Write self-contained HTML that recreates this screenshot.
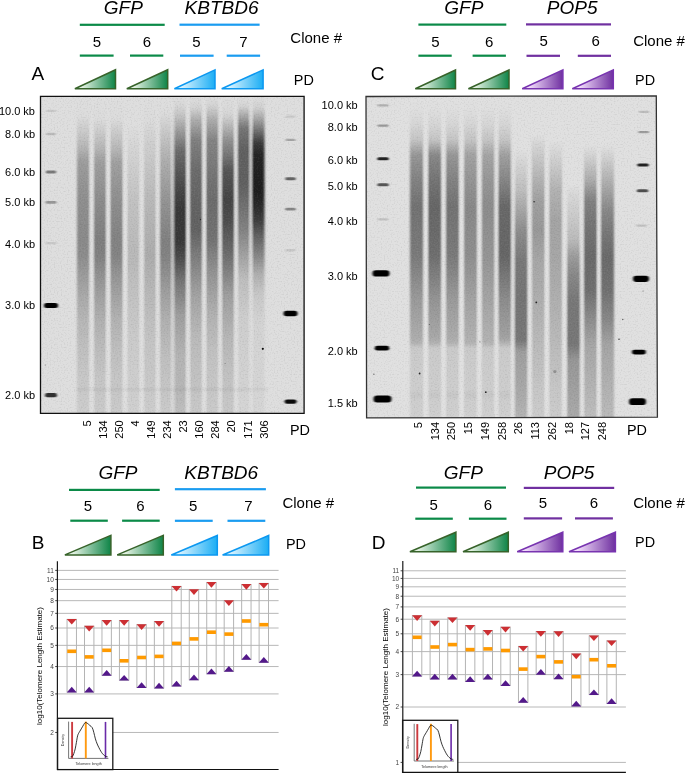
<!DOCTYPE html>
<html><head><meta charset="utf-8"><title>Figure</title>
<style>
html,body{margin:0;padding:0;background:#fff;width:685px;height:773px;overflow:hidden}
svg{display:block;position:absolute;left:0;top:0;will-change:transform}
text{font-family:"Liberation Sans", sans-serif}
</style></head><body>
<svg width="685" height="773" viewBox="0 0 685 773">
<defs>
<linearGradient id="tg1" gradientUnits="userSpaceOnUse" x1="73.9" y1="0" x2="116.2" y2="0"><stop offset="0" stop-color="#e2f1e2"/><stop offset="0.2" stop-color="#e2f1e2"/><stop offset="1" stop-color="#0a8244"/></linearGradient>
<linearGradient id="tg2" gradientUnits="userSpaceOnUse" x1="125.8" y1="0" x2="168.4" y2="0"><stop offset="0" stop-color="#e2f1e2"/><stop offset="0.2" stop-color="#e2f1e2"/><stop offset="1" stop-color="#0a8244"/></linearGradient>
<linearGradient id="tg3" gradientUnits="userSpaceOnUse" x1="173.4" y1="0" x2="215.7" y2="0"><stop offset="0" stop-color="#d8f3ff"/><stop offset="0.2" stop-color="#d8f3ff"/><stop offset="1" stop-color="#17acf4"/></linearGradient>
<linearGradient id="tg4" gradientUnits="userSpaceOnUse" x1="220.7" y1="0" x2="263.8" y2="0"><stop offset="0" stop-color="#d8f3ff"/><stop offset="0.2" stop-color="#d8f3ff"/><stop offset="1" stop-color="#17acf4"/></linearGradient>
<linearGradient id="tg5" gradientUnits="userSpaceOnUse" x1="414.3" y1="0" x2="456.2" y2="0"><stop offset="0" stop-color="#e2f1e2"/><stop offset="0.2" stop-color="#e2f1e2"/><stop offset="1" stop-color="#0a8244"/></linearGradient>
<linearGradient id="tg6" gradientUnits="userSpaceOnUse" x1="467.4" y1="0" x2="509.7" y2="0"><stop offset="0" stop-color="#e2f1e2"/><stop offset="0.2" stop-color="#e2f1e2"/><stop offset="1" stop-color="#0a8244"/></linearGradient>
<linearGradient id="tg7" gradientUnits="userSpaceOnUse" x1="521.2" y1="0" x2="563.6" y2="0"><stop offset="0" stop-color="#f2dcfb"/><stop offset="0.2" stop-color="#f2dcfb"/><stop offset="1" stop-color="#6c2c9e"/></linearGradient>
<linearGradient id="tg8" gradientUnits="userSpaceOnUse" x1="571.3" y1="0" x2="614.0" y2="0"><stop offset="0" stop-color="#f2dcfb"/><stop offset="0.2" stop-color="#f2dcfb"/><stop offset="1" stop-color="#6c2c9e"/></linearGradient>
<linearGradient id="tg9" gradientUnits="userSpaceOnUse" x1="63.9" y1="0" x2="111.6" y2="0"><stop offset="0" stop-color="#e2f1e2"/><stop offset="0.2" stop-color="#e2f1e2"/><stop offset="1" stop-color="#0a8244"/></linearGradient>
<linearGradient id="tg10" gradientUnits="userSpaceOnUse" x1="116.2" y1="0" x2="164.0" y2="0"><stop offset="0" stop-color="#e2f1e2"/><stop offset="0.2" stop-color="#e2f1e2"/><stop offset="1" stop-color="#0a8244"/></linearGradient>
<linearGradient id="tg11" gradientUnits="userSpaceOnUse" x1="170.3" y1="0" x2="218.0" y2="0"><stop offset="0" stop-color="#d8f3ff"/><stop offset="0.2" stop-color="#d8f3ff"/><stop offset="1" stop-color="#17acf4"/></linearGradient>
<linearGradient id="tg12" gradientUnits="userSpaceOnUse" x1="221.6" y1="0" x2="269.4" y2="0"><stop offset="0" stop-color="#d8f3ff"/><stop offset="0.2" stop-color="#d8f3ff"/><stop offset="1" stop-color="#17acf4"/></linearGradient>
<linearGradient id="tg13" gradientUnits="userSpaceOnUse" x1="408.9" y1="0" x2="456.6" y2="0"><stop offset="0" stop-color="#e2f1e2"/><stop offset="0.2" stop-color="#e2f1e2"/><stop offset="1" stop-color="#0a8244"/></linearGradient>
<linearGradient id="tg14" gradientUnits="userSpaceOnUse" x1="462.0" y1="0" x2="509.0" y2="0"><stop offset="0" stop-color="#e2f1e2"/><stop offset="0.2" stop-color="#e2f1e2"/><stop offset="1" stop-color="#0a8244"/></linearGradient>
<linearGradient id="tg15" gradientUnits="userSpaceOnUse" x1="516.2" y1="0" x2="563.5" y2="0"><stop offset="0" stop-color="#f2dcfb"/><stop offset="0.2" stop-color="#f2dcfb"/><stop offset="1" stop-color="#6c2c9e"/></linearGradient>
<linearGradient id="tg16" gradientUnits="userSpaceOnUse" x1="568.0" y1="0" x2="616.1" y2="0"><stop offset="0" stop-color="#f2dcfb"/><stop offset="0.2" stop-color="#f2dcfb"/><stop offset="1" stop-color="#6c2c9e"/></linearGradient>
<clipPath id="gc1"><polygon points="40.5,96.3 304.1,96.3 304.1,413.4 40.5,413.4"/></clipPath>
<filter id="gb1" x="-20%" y="-5%" width="140%" height="110%"><feGaussianBlur stdDeviation="1.1 1.0"/></filter>
<filter id="gl1" x="-50%" y="-50%" width="200%" height="200%"><feGaussianBlur stdDeviation="1.0 0.75"/></filter>
<filter id="gn1" x="0" y="0" width="100%" height="100%"><feTurbulence type="fractalNoise" baseFrequency="0.7" numOctaves="1" seed="7" result="n"/><feColorMatrix in="n" type="matrix" values="0 0 0 0 0  0 0 0 0 0  0 0 0 0 0  0 0 0 2 -1.0"/></filter>
<filter id="gw1" x="0" y="0" width="100%" height="100%"><feTurbulence type="fractalNoise" baseFrequency="0.7" numOctaves="1" seed="7" result="n"/><feColorMatrix in="n" type="matrix" values="0 0 0 0 1  0 0 0 0 1  0 0 0 0 1  0 0 0 -2 1.0"/></filter>
<linearGradient id="l1_0" gradientUnits="userSpaceOnUse" x1="0" y1="96.3" x2="0" y2="413.4"><stop offset="0.0000" stop-color="#000" stop-opacity="0.000"/><stop offset="0.0621" stop-color="#000" stop-opacity="0.009"/><stop offset="0.0810" stop-color="#000" stop-opacity="0.045"/><stop offset="0.1220" stop-color="#000" stop-opacity="0.108"/><stop offset="0.1630" stop-color="#000" stop-opacity="0.189"/><stop offset="0.2072" stop-color="#000" stop-opacity="0.297"/><stop offset="0.3270" stop-color="#000" stop-opacity="0.360"/><stop offset="0.4532" stop-color="#000" stop-opacity="0.378"/><stop offset="0.5036" stop-color="#000" stop-opacity="0.369"/><stop offset="0.5635" stop-color="#000" stop-opacity="0.302"/><stop offset="0.6266" stop-color="#000" stop-opacity="0.243"/><stop offset="0.7055" stop-color="#000" stop-opacity="0.180"/><stop offset="0.8001" stop-color="#000" stop-opacity="0.135"/><stop offset="0.8947" stop-color="#000" stop-opacity="0.099"/><stop offset="0.9987" stop-color="#000" stop-opacity="0.081"/></linearGradient>
<linearGradient id="l1_1" gradientUnits="userSpaceOnUse" x1="0" y1="96.3" x2="0" y2="413.4"><stop offset="0.0000" stop-color="#000" stop-opacity="0.000"/><stop offset="0.0684" stop-color="#000" stop-opacity="0.009"/><stop offset="0.1000" stop-color="#000" stop-opacity="0.063"/><stop offset="0.1630" stop-color="#000" stop-opacity="0.180"/><stop offset="0.2072" stop-color="#000" stop-opacity="0.288"/><stop offset="0.3270" stop-color="#000" stop-opacity="0.369"/><stop offset="0.4532" stop-color="#000" stop-opacity="0.432"/><stop offset="0.5036" stop-color="#000" stop-opacity="0.423"/><stop offset="0.5635" stop-color="#000" stop-opacity="0.347"/><stop offset="0.6266" stop-color="#000" stop-opacity="0.279"/><stop offset="0.7055" stop-color="#000" stop-opacity="0.207"/><stop offset="0.8001" stop-color="#000" stop-opacity="0.153"/><stop offset="0.8947" stop-color="#000" stop-opacity="0.108"/><stop offset="0.9987" stop-color="#000" stop-opacity="0.090"/></linearGradient>
<linearGradient id="l1_2" gradientUnits="userSpaceOnUse" x1="0" y1="96.3" x2="0" y2="413.4"><stop offset="0.0000" stop-color="#000" stop-opacity="0.000"/><stop offset="0.0684" stop-color="#000" stop-opacity="0.009"/><stop offset="0.1000" stop-color="#000" stop-opacity="0.063"/><stop offset="0.1630" stop-color="#000" stop-opacity="0.171"/><stop offset="0.2072" stop-color="#000" stop-opacity="0.279"/><stop offset="0.3270" stop-color="#000" stop-opacity="0.360"/><stop offset="0.4532" stop-color="#000" stop-opacity="0.414"/><stop offset="0.5036" stop-color="#000" stop-opacity="0.405"/><stop offset="0.5635" stop-color="#000" stop-opacity="0.333"/><stop offset="0.6266" stop-color="#000" stop-opacity="0.270"/><stop offset="0.7055" stop-color="#000" stop-opacity="0.198"/><stop offset="0.8001" stop-color="#000" stop-opacity="0.144"/><stop offset="0.8947" stop-color="#000" stop-opacity="0.108"/><stop offset="0.9987" stop-color="#000" stop-opacity="0.090"/></linearGradient>
<linearGradient id="l1_3" gradientUnits="userSpaceOnUse" x1="0" y1="96.3" x2="0" y2="413.4"><stop offset="0.0000" stop-color="#000" stop-opacity="0.000"/><stop offset="0.0905" stop-color="#000" stop-opacity="0.000"/><stop offset="0.1693" stop-color="#000" stop-opacity="0.045"/><stop offset="0.3270" stop-color="#000" stop-opacity="0.126"/><stop offset="0.5036" stop-color="#000" stop-opacity="0.171"/><stop offset="0.6266" stop-color="#000" stop-opacity="0.126"/><stop offset="0.7591" stop-color="#000" stop-opacity="0.090"/><stop offset="0.9987" stop-color="#000" stop-opacity="0.063"/></linearGradient>
<linearGradient id="l1_4" gradientUnits="userSpaceOnUse" x1="0" y1="96.3" x2="0" y2="413.4"><stop offset="0.0000" stop-color="#000" stop-opacity="0.000"/><stop offset="0.0684" stop-color="#000" stop-opacity="0.009"/><stop offset="0.1378" stop-color="#000" stop-opacity="0.063"/><stop offset="0.3270" stop-color="#000" stop-opacity="0.171"/><stop offset="0.5036" stop-color="#000" stop-opacity="0.225"/><stop offset="0.6266" stop-color="#000" stop-opacity="0.171"/><stop offset="0.7591" stop-color="#000" stop-opacity="0.122"/><stop offset="0.9987" stop-color="#000" stop-opacity="0.081"/></linearGradient>
<linearGradient id="l1_5" gradientUnits="userSpaceOnUse" x1="0" y1="96.3" x2="0" y2="413.4"><stop offset="0.0000" stop-color="#000" stop-opacity="0.000"/><stop offset="0.0495" stop-color="#000" stop-opacity="0.009"/><stop offset="0.1063" stop-color="#000" stop-opacity="0.090"/><stop offset="0.2009" stop-color="#000" stop-opacity="0.216"/><stop offset="0.3270" stop-color="#000" stop-opacity="0.333"/><stop offset="0.4532" stop-color="#000" stop-opacity="0.423"/><stop offset="0.5036" stop-color="#000" stop-opacity="0.414"/><stop offset="0.5635" stop-color="#000" stop-opacity="0.351"/><stop offset="0.6266" stop-color="#000" stop-opacity="0.279"/><stop offset="0.7055" stop-color="#000" stop-opacity="0.207"/><stop offset="0.8001" stop-color="#000" stop-opacity="0.153"/><stop offset="0.8947" stop-color="#000" stop-opacity="0.117"/><stop offset="0.9987" stop-color="#000" stop-opacity="0.090"/></linearGradient>
<linearGradient id="l1_6" gradientUnits="userSpaceOnUse" x1="0" y1="96.3" x2="0" y2="413.4"><stop offset="0.0000" stop-color="#000" stop-opacity="0.000"/><stop offset="0.0306" stop-color="#000" stop-opacity="0.036"/><stop offset="0.0653" stop-color="#000" stop-opacity="0.135"/><stop offset="0.1063" stop-color="#000" stop-opacity="0.288"/><stop offset="0.1693" stop-color="#000" stop-opacity="0.514"/><stop offset="0.2324" stop-color="#000" stop-opacity="0.604"/><stop offset="0.2955" stop-color="#000" stop-opacity="0.685"/><stop offset="0.3586" stop-color="#000" stop-opacity="0.748"/><stop offset="0.4532" stop-color="#000" stop-opacity="0.748"/><stop offset="0.5036" stop-color="#000" stop-opacity="0.676"/><stop offset="0.5793" stop-color="#000" stop-opacity="0.482"/><stop offset="0.6928" stop-color="#000" stop-opacity="0.288"/><stop offset="0.8221" stop-color="#000" stop-opacity="0.189"/><stop offset="0.9199" stop-color="#000" stop-opacity="0.180"/><stop offset="0.9987" stop-color="#000" stop-opacity="0.144"/></linearGradient>
<linearGradient id="l1_7" gradientUnits="userSpaceOnUse" x1="0" y1="96.3" x2="0" y2="413.4"><stop offset="0.0000" stop-color="#000" stop-opacity="0.000"/><stop offset="0.0369" stop-color="#000" stop-opacity="0.054"/><stop offset="0.0747" stop-color="#000" stop-opacity="0.225"/><stop offset="0.1378" stop-color="#000" stop-opacity="0.423"/><stop offset="0.2324" stop-color="#000" stop-opacity="0.514"/><stop offset="0.3270" stop-color="#000" stop-opacity="0.550"/><stop offset="0.4216" stop-color="#000" stop-opacity="0.559"/><stop offset="0.5036" stop-color="#000" stop-opacity="0.441"/><stop offset="0.6266" stop-color="#000" stop-opacity="0.270"/><stop offset="0.7591" stop-color="#000" stop-opacity="0.162"/><stop offset="0.9987" stop-color="#000" stop-opacity="0.099"/></linearGradient>
<linearGradient id="l1_8" gradientUnits="userSpaceOnUse" x1="0" y1="96.3" x2="0" y2="413.4"><stop offset="0.0000" stop-color="#000" stop-opacity="0.000"/><stop offset="0.0306" stop-color="#000" stop-opacity="0.054"/><stop offset="0.0747" stop-color="#000" stop-opacity="0.225"/><stop offset="0.1378" stop-color="#000" stop-opacity="0.405"/><stop offset="0.2640" stop-color="#000" stop-opacity="0.486"/><stop offset="0.3270" stop-color="#000" stop-opacity="0.514"/><stop offset="0.4532" stop-color="#000" stop-opacity="0.486"/><stop offset="0.5478" stop-color="#000" stop-opacity="0.351"/><stop offset="0.6928" stop-color="#000" stop-opacity="0.198"/><stop offset="0.8221" stop-color="#000" stop-opacity="0.126"/><stop offset="0.9987" stop-color="#000" stop-opacity="0.090"/></linearGradient>
<linearGradient id="l1_9" gradientUnits="userSpaceOnUse" x1="0" y1="96.3" x2="0" y2="413.4"><stop offset="0.0000" stop-color="#000" stop-opacity="0.000"/><stop offset="0.0558" stop-color="#000" stop-opacity="0.036"/><stop offset="0.0905" stop-color="#000" stop-opacity="0.162"/><stop offset="0.1378" stop-color="#000" stop-opacity="0.347"/><stop offset="0.1851" stop-color="#000" stop-opacity="0.468"/><stop offset="0.2324" stop-color="#000" stop-opacity="0.613"/><stop offset="0.3270" stop-color="#000" stop-opacity="0.694"/><stop offset="0.3901" stop-color="#000" stop-opacity="0.658"/><stop offset="0.5036" stop-color="#000" stop-opacity="0.505"/><stop offset="0.6266" stop-color="#000" stop-opacity="0.288"/><stop offset="0.7591" stop-color="#000" stop-opacity="0.180"/><stop offset="0.8884" stop-color="#000" stop-opacity="0.126"/><stop offset="0.9987" stop-color="#000" stop-opacity="0.099"/></linearGradient>
<linearGradient id="l1_10" gradientUnits="userSpaceOnUse" x1="0" y1="96.3" x2="0" y2="413.4"><stop offset="0.0000" stop-color="#000" stop-opacity="0.000"/><stop offset="0.0306" stop-color="#000" stop-opacity="0.045"/><stop offset="0.0558" stop-color="#000" stop-opacity="0.207"/><stop offset="0.1000" stop-color="#000" stop-opacity="0.468"/><stop offset="0.1693" stop-color="#000" stop-opacity="0.568"/><stop offset="0.2766" stop-color="#000" stop-opacity="0.568"/><stop offset="0.3270" stop-color="#000" stop-opacity="0.514"/><stop offset="0.4216" stop-color="#000" stop-opacity="0.414"/><stop offset="0.5036" stop-color="#000" stop-opacity="0.270"/><stop offset="0.5793" stop-color="#000" stop-opacity="0.144"/><stop offset="0.7055" stop-color="#000" stop-opacity="0.072"/><stop offset="0.9987" stop-color="#000" stop-opacity="0.045"/></linearGradient>
<linearGradient id="l1_11" gradientUnits="userSpaceOnUse" x1="0" y1="96.3" x2="0" y2="413.4"><stop offset="0.0000" stop-color="#000" stop-opacity="0.000"/><stop offset="0.0369" stop-color="#000" stop-opacity="0.063"/><stop offset="0.0747" stop-color="#000" stop-opacity="0.279"/><stop offset="0.1126" stop-color="#000" stop-opacity="0.514"/><stop offset="0.1473" stop-color="#000" stop-opacity="0.739"/><stop offset="0.1851" stop-color="#000" stop-opacity="0.838"/><stop offset="0.2955" stop-color="#000" stop-opacity="0.865"/><stop offset="0.3428" stop-color="#000" stop-opacity="0.820"/><stop offset="0.3901" stop-color="#000" stop-opacity="0.730"/><stop offset="0.4374" stop-color="#000" stop-opacity="0.572"/><stop offset="0.5036" stop-color="#000" stop-opacity="0.392"/><stop offset="0.5635" stop-color="#000" stop-opacity="0.207"/><stop offset="0.6266" stop-color="#000" stop-opacity="0.099"/><stop offset="0.7055" stop-color="#000" stop-opacity="0.054"/><stop offset="0.9987" stop-color="#000" stop-opacity="0.036"/></linearGradient>
<linearGradient id="gp1_0" gradientUnits="userSpaceOnUse" x1="0" y1="96.3" x2="0" y2="413.4"><stop offset="0.0000" stop-color="#fff" stop-opacity="0.000"/><stop offset="0.0000" stop-color="#fff" stop-opacity="0.000"/><stop offset="0.0621" stop-color="#fff" stop-opacity="0.006"/><stop offset="0.0684" stop-color="#fff" stop-opacity="0.011"/><stop offset="0.0810" stop-color="#fff" stop-opacity="0.026"/><stop offset="0.1000" stop-color="#fff" stop-opacity="0.048"/><stop offset="0.1220" stop-color="#fff" stop-opacity="0.074"/><stop offset="0.1630" stop-color="#fff" stop-opacity="0.129"/><stop offset="0.2072" stop-color="#fff" stop-opacity="0.200"/><stop offset="0.3270" stop-color="#fff" stop-opacity="0.200"/><stop offset="0.4532" stop-color="#fff" stop-opacity="0.200"/><stop offset="0.5036" stop-color="#fff" stop-opacity="0.200"/><stop offset="0.5635" stop-color="#fff" stop-opacity="0.200"/><stop offset="0.6266" stop-color="#fff" stop-opacity="0.183"/><stop offset="0.7055" stop-color="#fff" stop-opacity="0.136"/><stop offset="0.8001" stop-color="#fff" stop-opacity="0.101"/><stop offset="0.8947" stop-color="#fff" stop-opacity="0.073"/><stop offset="0.9987" stop-color="#fff" stop-opacity="0.060"/><stop offset="1.0000" stop-color="#fff" stop-opacity="0.060"/></linearGradient>
<linearGradient id="gp1_1" gradientUnits="userSpaceOnUse" x1="0" y1="96.3" x2="0" y2="413.4"><stop offset="0.0000" stop-color="#fff" stop-opacity="0.000"/><stop offset="0.0000" stop-color="#fff" stop-opacity="0.000"/><stop offset="0.0684" stop-color="#fff" stop-opacity="0.006"/><stop offset="0.1000" stop-color="#fff" stop-opacity="0.044"/><stop offset="0.1630" stop-color="#fff" stop-opacity="0.123"/><stop offset="0.2072" stop-color="#fff" stop-opacity="0.199"/><stop offset="0.3270" stop-color="#fff" stop-opacity="0.200"/><stop offset="0.4532" stop-color="#fff" stop-opacity="0.200"/><stop offset="0.5036" stop-color="#fff" stop-opacity="0.200"/><stop offset="0.5635" stop-color="#fff" stop-opacity="0.200"/><stop offset="0.6266" stop-color="#fff" stop-opacity="0.192"/><stop offset="0.7055" stop-color="#fff" stop-opacity="0.142"/><stop offset="0.8001" stop-color="#fff" stop-opacity="0.104"/><stop offset="0.8947" stop-color="#fff" stop-opacity="0.076"/><stop offset="0.9987" stop-color="#fff" stop-opacity="0.063"/><stop offset="1.0000" stop-color="#fff" stop-opacity="0.063"/></linearGradient>
<linearGradient id="gp1_2" gradientUnits="userSpaceOnUse" x1="0" y1="96.3" x2="0" y2="413.4"><stop offset="0.0000" stop-color="#fff" stop-opacity="0.000"/><stop offset="0.0000" stop-color="#fff" stop-opacity="0.000"/><stop offset="0.0684" stop-color="#fff" stop-opacity="0.003"/><stop offset="0.0905" stop-color="#fff" stop-opacity="0.016"/><stop offset="0.1000" stop-color="#fff" stop-opacity="0.024"/><stop offset="0.1630" stop-color="#fff" stop-opacity="0.074"/><stop offset="0.1693" stop-color="#fff" stop-opacity="0.081"/><stop offset="0.2072" stop-color="#fff" stop-opacity="0.120"/><stop offset="0.3270" stop-color="#fff" stop-opacity="0.170"/><stop offset="0.4532" stop-color="#fff" stop-opacity="0.200"/><stop offset="0.5036" stop-color="#fff" stop-opacity="0.200"/><stop offset="0.5635" stop-color="#fff" stop-opacity="0.169"/><stop offset="0.6266" stop-color="#fff" stop-opacity="0.139"/><stop offset="0.7055" stop-color="#fff" stop-opacity="0.106"/><stop offset="0.7591" stop-color="#fff" stop-opacity="0.090"/><stop offset="0.8001" stop-color="#fff" stop-opacity="0.080"/><stop offset="0.8947" stop-color="#fff" stop-opacity="0.064"/><stop offset="0.9987" stop-color="#fff" stop-opacity="0.054"/><stop offset="1.0000" stop-color="#fff" stop-opacity="0.054"/></linearGradient>
<linearGradient id="gp1_3" gradientUnits="userSpaceOnUse" x1="0" y1="96.3" x2="0" y2="413.4"><stop offset="0.0000" stop-color="#fff" stop-opacity="0.000"/><stop offset="0.0000" stop-color="#fff" stop-opacity="0.000"/><stop offset="0.0684" stop-color="#fff" stop-opacity="0.003"/><stop offset="0.0905" stop-color="#fff" stop-opacity="0.009"/><stop offset="0.1378" stop-color="#fff" stop-opacity="0.032"/><stop offset="0.1693" stop-color="#fff" stop-opacity="0.044"/><stop offset="0.3270" stop-color="#fff" stop-opacity="0.104"/><stop offset="0.5036" stop-color="#fff" stop-opacity="0.139"/><stop offset="0.6266" stop-color="#fff" stop-opacity="0.104"/><stop offset="0.7591" stop-color="#fff" stop-opacity="0.074"/><stop offset="0.9987" stop-color="#fff" stop-opacity="0.050"/><stop offset="1.0000" stop-color="#fff" stop-opacity="0.050"/></linearGradient>
<linearGradient id="gp1_4" gradientUnits="userSpaceOnUse" x1="0" y1="96.3" x2="0" y2="413.4"><stop offset="0.0000" stop-color="#fff" stop-opacity="0.000"/><stop offset="0.0000" stop-color="#fff" stop-opacity="0.000"/><stop offset="0.0495" stop-color="#fff" stop-opacity="0.005"/><stop offset="0.0684" stop-color="#fff" stop-opacity="0.016"/><stop offset="0.1063" stop-color="#fff" stop-opacity="0.045"/><stop offset="0.1378" stop-color="#fff" stop-opacity="0.068"/><stop offset="0.2009" stop-color="#fff" stop-opacity="0.110"/><stop offset="0.3270" stop-color="#fff" stop-opacity="0.177"/><stop offset="0.4532" stop-color="#fff" stop-opacity="0.200"/><stop offset="0.5036" stop-color="#fff" stop-opacity="0.200"/><stop offset="0.5635" stop-color="#fff" stop-opacity="0.193"/><stop offset="0.6266" stop-color="#fff" stop-opacity="0.158"/><stop offset="0.7055" stop-color="#fff" stop-opacity="0.122"/><stop offset="0.7591" stop-color="#fff" stop-opacity="0.104"/><stop offset="0.8001" stop-color="#fff" stop-opacity="0.094"/><stop offset="0.8947" stop-color="#fff" stop-opacity="0.076"/><stop offset="0.9987" stop-color="#fff" stop-opacity="0.060"/><stop offset="1.0000" stop-color="#fff" stop-opacity="0.060"/></linearGradient>
<linearGradient id="gp1_5" gradientUnits="userSpaceOnUse" x1="0" y1="96.3" x2="0" y2="413.4"><stop offset="0.0000" stop-color="#fff" stop-opacity="0.000"/><stop offset="0.0000" stop-color="#fff" stop-opacity="0.000"/><stop offset="0.0306" stop-color="#fff" stop-opacity="0.015"/><stop offset="0.0495" stop-color="#fff" stop-opacity="0.035"/><stop offset="0.0653" stop-color="#fff" stop-opacity="0.058"/><stop offset="0.1063" stop-color="#fff" stop-opacity="0.132"/><stop offset="0.1693" stop-color="#fff" stop-opacity="0.200"/><stop offset="0.2009" stop-color="#fff" stop-opacity="0.200"/><stop offset="0.2324" stop-color="#fff" stop-opacity="0.200"/><stop offset="0.2955" stop-color="#fff" stop-opacity="0.200"/><stop offset="0.3270" stop-color="#fff" stop-opacity="0.200"/><stop offset="0.3586" stop-color="#fff" stop-opacity="0.200"/><stop offset="0.4532" stop-color="#fff" stop-opacity="0.200"/><stop offset="0.5036" stop-color="#fff" stop-opacity="0.200"/><stop offset="0.5635" stop-color="#fff" stop-opacity="0.200"/><stop offset="0.5793" stop-color="#fff" stop-opacity="0.200"/><stop offset="0.6266" stop-color="#fff" stop-opacity="0.200"/><stop offset="0.6928" stop-color="#fff" stop-opacity="0.177"/><stop offset="0.7055" stop-color="#fff" stop-opacity="0.170"/><stop offset="0.8001" stop-color="#fff" stop-opacity="0.126"/><stop offset="0.8221" stop-color="#fff" stop-opacity="0.117"/><stop offset="0.8947" stop-color="#fff" stop-opacity="0.105"/><stop offset="0.9199" stop-color="#fff" stop-opacity="0.102"/><stop offset="0.9987" stop-color="#fff" stop-opacity="0.082"/><stop offset="1.0000" stop-color="#fff" stop-opacity="0.082"/></linearGradient>
<linearGradient id="gp1_6" gradientUnits="userSpaceOnUse" x1="0" y1="96.3" x2="0" y2="413.4"><stop offset="0.0000" stop-color="#fff" stop-opacity="0.000"/><stop offset="0.0000" stop-color="#fff" stop-opacity="0.001"/><stop offset="0.0306" stop-color="#fff" stop-opacity="0.028"/><stop offset="0.0369" stop-color="#fff" stop-opacity="0.038"/><stop offset="0.0653" stop-color="#fff" stop-opacity="0.111"/><stop offset="0.0747" stop-color="#fff" stop-opacity="0.138"/><stop offset="0.1063" stop-color="#fff" stop-opacity="0.200"/><stop offset="0.1378" stop-color="#fff" stop-opacity="0.200"/><stop offset="0.1693" stop-color="#fff" stop-opacity="0.200"/><stop offset="0.2324" stop-color="#fff" stop-opacity="0.200"/><stop offset="0.2955" stop-color="#fff" stop-opacity="0.200"/><stop offset="0.3270" stop-color="#fff" stop-opacity="0.200"/><stop offset="0.3586" stop-color="#fff" stop-opacity="0.200"/><stop offset="0.4216" stop-color="#fff" stop-opacity="0.200"/><stop offset="0.4532" stop-color="#fff" stop-opacity="0.200"/><stop offset="0.5036" stop-color="#fff" stop-opacity="0.200"/><stop offset="0.5793" stop-color="#fff" stop-opacity="0.200"/><stop offset="0.6266" stop-color="#fff" stop-opacity="0.200"/><stop offset="0.6928" stop-color="#fff" stop-opacity="0.177"/><stop offset="0.7591" stop-color="#fff" stop-opacity="0.140"/><stop offset="0.8221" stop-color="#fff" stop-opacity="0.117"/><stop offset="0.9199" stop-color="#fff" stop-opacity="0.105"/><stop offset="0.9987" stop-color="#fff" stop-opacity="0.085"/><stop offset="1.0000" stop-color="#fff" stop-opacity="0.085"/></linearGradient>
<linearGradient id="gp1_7" gradientUnits="userSpaceOnUse" x1="0" y1="96.3" x2="0" y2="413.4"><stop offset="0.0000" stop-color="#fff" stop-opacity="0.000"/><stop offset="0.0000" stop-color="#fff" stop-opacity="0.001"/><stop offset="0.0306" stop-color="#fff" stop-opacity="0.035"/><stop offset="0.0369" stop-color="#fff" stop-opacity="0.046"/><stop offset="0.0747" stop-color="#fff" stop-opacity="0.158"/><stop offset="0.1378" stop-color="#fff" stop-opacity="0.200"/><stop offset="0.2324" stop-color="#fff" stop-opacity="0.200"/><stop offset="0.2640" stop-color="#fff" stop-opacity="0.200"/><stop offset="0.3270" stop-color="#fff" stop-opacity="0.200"/><stop offset="0.4216" stop-color="#fff" stop-opacity="0.200"/><stop offset="0.4532" stop-color="#fff" stop-opacity="0.200"/><stop offset="0.5036" stop-color="#fff" stop-opacity="0.200"/><stop offset="0.5478" stop-color="#fff" stop-opacity="0.200"/><stop offset="0.6266" stop-color="#fff" stop-opacity="0.188"/><stop offset="0.6928" stop-color="#fff" stop-opacity="0.145"/><stop offset="0.7591" stop-color="#fff" stop-opacity="0.113"/><stop offset="0.8221" stop-color="#fff" stop-opacity="0.095"/><stop offset="0.9987" stop-color="#fff" stop-opacity="0.066"/><stop offset="1.0000" stop-color="#fff" stop-opacity="0.066"/></linearGradient>
<linearGradient id="gp1_8" gradientUnits="userSpaceOnUse" x1="0" y1="96.3" x2="0" y2="413.4"><stop offset="0.0000" stop-color="#fff" stop-opacity="0.000"/><stop offset="0.0000" stop-color="#fff" stop-opacity="0.001"/><stop offset="0.0306" stop-color="#fff" stop-opacity="0.026"/><stop offset="0.0558" stop-color="#fff" stop-opacity="0.066"/><stop offset="0.0747" stop-color="#fff" stop-opacity="0.116"/><stop offset="0.0905" stop-color="#fff" stop-opacity="0.151"/><stop offset="0.1378" stop-color="#fff" stop-opacity="0.200"/><stop offset="0.1851" stop-color="#fff" stop-opacity="0.200"/><stop offset="0.2324" stop-color="#fff" stop-opacity="0.200"/><stop offset="0.2640" stop-color="#fff" stop-opacity="0.200"/><stop offset="0.3270" stop-color="#fff" stop-opacity="0.200"/><stop offset="0.3901" stop-color="#fff" stop-opacity="0.200"/><stop offset="0.4532" stop-color="#fff" stop-opacity="0.200"/><stop offset="0.5036" stop-color="#fff" stop-opacity="0.200"/><stop offset="0.5478" stop-color="#fff" stop-opacity="0.200"/><stop offset="0.6266" stop-color="#fff" stop-opacity="0.195"/><stop offset="0.6928" stop-color="#fff" stop-opacity="0.151"/><stop offset="0.7591" stop-color="#fff" stop-opacity="0.120"/><stop offset="0.8221" stop-color="#fff" stop-opacity="0.098"/><stop offset="0.8884" stop-color="#fff" stop-opacity="0.084"/><stop offset="0.9987" stop-color="#fff" stop-opacity="0.066"/><stop offset="1.0000" stop-color="#fff" stop-opacity="0.066"/></linearGradient>
<linearGradient id="gp1_9" gradientUnits="userSpaceOnUse" x1="0" y1="96.3" x2="0" y2="413.4"><stop offset="0.0000" stop-color="#fff" stop-opacity="0.000"/><stop offset="0.0000" stop-color="#fff" stop-opacity="0.001"/><stop offset="0.0306" stop-color="#fff" stop-opacity="0.023"/><stop offset="0.0558" stop-color="#fff" stop-opacity="0.085"/><stop offset="0.0905" stop-color="#fff" stop-opacity="0.200"/><stop offset="0.1000" stop-color="#fff" stop-opacity="0.200"/><stop offset="0.1378" stop-color="#fff" stop-opacity="0.200"/><stop offset="0.1693" stop-color="#fff" stop-opacity="0.200"/><stop offset="0.1851" stop-color="#fff" stop-opacity="0.200"/><stop offset="0.2324" stop-color="#fff" stop-opacity="0.200"/><stop offset="0.2766" stop-color="#fff" stop-opacity="0.200"/><stop offset="0.3270" stop-color="#fff" stop-opacity="0.200"/><stop offset="0.3901" stop-color="#fff" stop-opacity="0.200"/><stop offset="0.4216" stop-color="#fff" stop-opacity="0.200"/><stop offset="0.5036" stop-color="#fff" stop-opacity="0.200"/><stop offset="0.5793" stop-color="#fff" stop-opacity="0.180"/><stop offset="0.6266" stop-color="#fff" stop-opacity="0.142"/><stop offset="0.7055" stop-color="#fff" stop-opacity="0.104"/><stop offset="0.7591" stop-color="#fff" stop-opacity="0.087"/><stop offset="0.8884" stop-color="#fff" stop-opacity="0.063"/><stop offset="0.9987" stop-color="#fff" stop-opacity="0.050"/><stop offset="1.0000" stop-color="#fff" stop-opacity="0.050"/></linearGradient>
<linearGradient id="gp1_10" gradientUnits="userSpaceOnUse" x1="0" y1="96.3" x2="0" y2="413.4"><stop offset="0.0000" stop-color="#fff" stop-opacity="0.000"/><stop offset="0.0000" stop-color="#fff" stop-opacity="0.001"/><stop offset="0.0306" stop-color="#fff" stop-opacity="0.034"/><stop offset="0.0369" stop-color="#fff" stop-opacity="0.052"/><stop offset="0.0558" stop-color="#fff" stop-opacity="0.132"/><stop offset="0.0747" stop-color="#fff" stop-opacity="0.200"/><stop offset="0.1000" stop-color="#fff" stop-opacity="0.200"/><stop offset="0.1126" stop-color="#fff" stop-opacity="0.200"/><stop offset="0.1473" stop-color="#fff" stop-opacity="0.200"/><stop offset="0.1693" stop-color="#fff" stop-opacity="0.200"/><stop offset="0.1851" stop-color="#fff" stop-opacity="0.200"/><stop offset="0.2766" stop-color="#fff" stop-opacity="0.200"/><stop offset="0.2955" stop-color="#fff" stop-opacity="0.200"/><stop offset="0.3270" stop-color="#fff" stop-opacity="0.200"/><stop offset="0.3428" stop-color="#fff" stop-opacity="0.200"/><stop offset="0.3901" stop-color="#fff" stop-opacity="0.200"/><stop offset="0.4216" stop-color="#fff" stop-opacity="0.200"/><stop offset="0.4374" stop-color="#fff" stop-opacity="0.200"/><stop offset="0.5036" stop-color="#fff" stop-opacity="0.200"/><stop offset="0.5635" stop-color="#fff" stop-opacity="0.132"/><stop offset="0.5793" stop-color="#fff" stop-opacity="0.114"/><stop offset="0.6266" stop-color="#fff" stop-opacity="0.076"/><stop offset="0.7055" stop-color="#fff" stop-opacity="0.044"/><stop offset="0.9987" stop-color="#fff" stop-opacity="0.028"/><stop offset="1.0000" stop-color="#fff" stop-opacity="0.028"/></linearGradient>
<clipPath id="gc2"><polygon points="366.0,96.5 656.3,95.9 657.4,417.2 366.6,417.9"/></clipPath>
<filter id="gb2" x="-20%" y="-5%" width="140%" height="110%"><feGaussianBlur stdDeviation="1.1 1.0"/></filter>
<filter id="gl2" x="-50%" y="-50%" width="200%" height="200%"><feGaussianBlur stdDeviation="1.0 0.75"/></filter>
<filter id="gn2" x="0" y="0" width="100%" height="100%"><feTurbulence type="fractalNoise" baseFrequency="0.7" numOctaves="1" seed="14" result="n"/><feColorMatrix in="n" type="matrix" values="0 0 0 0 0  0 0 0 0 0  0 0 0 0 0  0 0 0 2 -1.0"/></filter>
<filter id="gw2" x="0" y="0" width="100%" height="100%"><feTurbulence type="fractalNoise" baseFrequency="0.7" numOctaves="1" seed="14" result="n"/><feColorMatrix in="n" type="matrix" values="0 0 0 0 1  0 0 0 0 1  0 0 0 0 1  0 0 0 -2 1.0"/></filter>
<linearGradient id="l2_0" gradientUnits="userSpaceOnUse" x1="0" y1="96.4" x2="0" y2="417.8"><stop offset="0.0000" stop-color="#000" stop-opacity="0.000"/><stop offset="0.0361" stop-color="#000" stop-opacity="0.004"/><stop offset="0.0859" stop-color="#000" stop-opacity="0.045"/><stop offset="0.1357" stop-color="#000" stop-opacity="0.125"/><stop offset="0.1823" stop-color="#000" stop-opacity="0.330"/><stop offset="0.2601" stop-color="#000" stop-opacity="0.420"/><stop offset="0.3410" stop-color="#000" stop-opacity="0.491"/><stop offset="0.4966" stop-color="#000" stop-opacity="0.455"/><stop offset="0.6335" stop-color="#000" stop-opacity="0.312"/><stop offset="0.7517" stop-color="#000" stop-opacity="0.232"/><stop offset="0.7673" stop-color="#000" stop-opacity="0.205"/><stop offset="0.7828" stop-color="#000" stop-opacity="0.098"/><stop offset="0.9135" stop-color="#000" stop-opacity="0.085"/><stop offset="0.9291" stop-color="#000" stop-opacity="0.116"/><stop offset="0.9446" stop-color="#000" stop-opacity="0.085"/><stop offset="1.0000" stop-color="#000" stop-opacity="0.071"/></linearGradient>
<linearGradient id="l2_1" gradientUnits="userSpaceOnUse" x1="0" y1="96.4" x2="0" y2="417.8"><stop offset="0.0000" stop-color="#000" stop-opacity="0.000"/><stop offset="0.0361" stop-color="#000" stop-opacity="0.004"/><stop offset="0.0859" stop-color="#000" stop-opacity="0.045"/><stop offset="0.1357" stop-color="#000" stop-opacity="0.125"/><stop offset="0.1823" stop-color="#000" stop-opacity="0.393"/><stop offset="0.2601" stop-color="#000" stop-opacity="0.482"/><stop offset="0.3410" stop-color="#000" stop-opacity="0.545"/><stop offset="0.4966" stop-color="#000" stop-opacity="0.509"/><stop offset="0.6335" stop-color="#000" stop-opacity="0.339"/><stop offset="0.7517" stop-color="#000" stop-opacity="0.250"/><stop offset="0.7673" stop-color="#000" stop-opacity="0.205"/><stop offset="0.7828" stop-color="#000" stop-opacity="0.098"/><stop offset="0.9135" stop-color="#000" stop-opacity="0.085"/><stop offset="0.9291" stop-color="#000" stop-opacity="0.116"/><stop offset="0.9446" stop-color="#000" stop-opacity="0.085"/><stop offset="1.0000" stop-color="#000" stop-opacity="0.071"/></linearGradient>
<linearGradient id="l2_2" gradientUnits="userSpaceOnUse" x1="0" y1="96.4" x2="0" y2="417.8"><stop offset="0.0000" stop-color="#000" stop-opacity="0.000"/><stop offset="0.0361" stop-color="#000" stop-opacity="0.004"/><stop offset="0.0859" stop-color="#000" stop-opacity="0.045"/><stop offset="0.1357" stop-color="#000" stop-opacity="0.125"/><stop offset="0.1823" stop-color="#000" stop-opacity="0.330"/><stop offset="0.2601" stop-color="#000" stop-opacity="0.420"/><stop offset="0.3410" stop-color="#000" stop-opacity="0.491"/><stop offset="0.4966" stop-color="#000" stop-opacity="0.455"/><stop offset="0.6335" stop-color="#000" stop-opacity="0.312"/><stop offset="0.7517" stop-color="#000" stop-opacity="0.232"/><stop offset="0.7673" stop-color="#000" stop-opacity="0.205"/><stop offset="0.7828" stop-color="#000" stop-opacity="0.098"/><stop offset="0.9135" stop-color="#000" stop-opacity="0.085"/><stop offset="0.9291" stop-color="#000" stop-opacity="0.116"/><stop offset="0.9446" stop-color="#000" stop-opacity="0.085"/><stop offset="1.0000" stop-color="#000" stop-opacity="0.071"/></linearGradient>
<linearGradient id="l2_3" gradientUnits="userSpaceOnUse" x1="0" y1="96.4" x2="0" y2="417.8"><stop offset="0.0000" stop-color="#000" stop-opacity="0.000"/><stop offset="0.0361" stop-color="#000" stop-opacity="0.004"/><stop offset="0.0859" stop-color="#000" stop-opacity="0.045"/><stop offset="0.1357" stop-color="#000" stop-opacity="0.125"/><stop offset="0.1823" stop-color="#000" stop-opacity="0.277"/><stop offset="0.2601" stop-color="#000" stop-opacity="0.339"/><stop offset="0.3410" stop-color="#000" stop-opacity="0.393"/><stop offset="0.4966" stop-color="#000" stop-opacity="0.366"/><stop offset="0.6335" stop-color="#000" stop-opacity="0.277"/><stop offset="0.7517" stop-color="#000" stop-opacity="0.214"/><stop offset="0.7673" stop-color="#000" stop-opacity="0.205"/><stop offset="0.7828" stop-color="#000" stop-opacity="0.098"/><stop offset="0.9135" stop-color="#000" stop-opacity="0.085"/><stop offset="0.9291" stop-color="#000" stop-opacity="0.116"/><stop offset="0.9446" stop-color="#000" stop-opacity="0.085"/><stop offset="1.0000" stop-color="#000" stop-opacity="0.071"/></linearGradient>
<linearGradient id="l2_4" gradientUnits="userSpaceOnUse" x1="0" y1="96.4" x2="0" y2="417.8"><stop offset="0.0000" stop-color="#000" stop-opacity="0.000"/><stop offset="0.0361" stop-color="#000" stop-opacity="0.004"/><stop offset="0.0859" stop-color="#000" stop-opacity="0.045"/><stop offset="0.1357" stop-color="#000" stop-opacity="0.125"/><stop offset="0.1823" stop-color="#000" stop-opacity="0.268"/><stop offset="0.2601" stop-color="#000" stop-opacity="0.330"/><stop offset="0.3410" stop-color="#000" stop-opacity="0.375"/><stop offset="0.4966" stop-color="#000" stop-opacity="0.339"/><stop offset="0.6335" stop-color="#000" stop-opacity="0.268"/><stop offset="0.7517" stop-color="#000" stop-opacity="0.210"/><stop offset="0.7673" stop-color="#000" stop-opacity="0.205"/><stop offset="0.7828" stop-color="#000" stop-opacity="0.098"/><stop offset="0.9135" stop-color="#000" stop-opacity="0.085"/><stop offset="0.9291" stop-color="#000" stop-opacity="0.116"/><stop offset="0.9446" stop-color="#000" stop-opacity="0.085"/><stop offset="1.0000" stop-color="#000" stop-opacity="0.071"/></linearGradient>
<linearGradient id="l2_5" gradientUnits="userSpaceOnUse" x1="0" y1="96.4" x2="0" y2="417.8"><stop offset="0.0000" stop-color="#000" stop-opacity="0.000"/><stop offset="0.0361" stop-color="#000" stop-opacity="0.004"/><stop offset="0.0859" stop-color="#000" stop-opacity="0.045"/><stop offset="0.1357" stop-color="#000" stop-opacity="0.125"/><stop offset="0.1823" stop-color="#000" stop-opacity="0.286"/><stop offset="0.2601" stop-color="#000" stop-opacity="0.402"/><stop offset="0.3410" stop-color="#000" stop-opacity="0.536"/><stop offset="0.4966" stop-color="#000" stop-opacity="0.545"/><stop offset="0.6335" stop-color="#000" stop-opacity="0.375"/><stop offset="0.7517" stop-color="#000" stop-opacity="0.277"/><stop offset="0.7673" stop-color="#000" stop-opacity="0.205"/><stop offset="0.7828" stop-color="#000" stop-opacity="0.098"/><stop offset="0.9135" stop-color="#000" stop-opacity="0.085"/><stop offset="0.9291" stop-color="#000" stop-opacity="0.116"/><stop offset="0.9446" stop-color="#000" stop-opacity="0.085"/><stop offset="1.0000" stop-color="#000" stop-opacity="0.071"/></linearGradient>
<linearGradient id="l2_6" gradientUnits="userSpaceOnUse" x1="0" y1="96.4" x2="0" y2="417.8"><stop offset="0.0000" stop-color="#000" stop-opacity="0.000"/><stop offset="0.1668" stop-color="#000" stop-opacity="0.000"/><stop offset="0.2010" stop-color="#000" stop-opacity="0.045"/><stop offset="0.2912" stop-color="#000" stop-opacity="0.152"/><stop offset="0.4188" stop-color="#000" stop-opacity="0.375"/><stop offset="0.5090" stop-color="#000" stop-opacity="0.464"/><stop offset="0.6335" stop-color="#000" stop-opacity="0.482"/><stop offset="0.7579" stop-color="#000" stop-opacity="0.473"/><stop offset="0.7953" stop-color="#000" stop-opacity="0.295"/><stop offset="0.9135" stop-color="#000" stop-opacity="0.250"/><stop offset="1.0000" stop-color="#000" stop-opacity="0.196"/></linearGradient>
<linearGradient id="l2_7" gradientUnits="userSpaceOnUse" x1="0" y1="96.4" x2="0" y2="417.8"><stop offset="0.0000" stop-color="#000" stop-opacity="0.000"/><stop offset="0.1201" stop-color="#000" stop-opacity="0.000"/><stop offset="0.1512" stop-color="#000" stop-opacity="0.054"/><stop offset="0.2601" stop-color="#000" stop-opacity="0.205"/><stop offset="0.3223" stop-color="#000" stop-opacity="0.286"/><stop offset="0.4157" stop-color="#000" stop-opacity="0.321"/><stop offset="0.5090" stop-color="#000" stop-opacity="0.259"/><stop offset="0.6335" stop-color="#000" stop-opacity="0.223"/><stop offset="0.7673" stop-color="#000" stop-opacity="0.170"/><stop offset="0.9135" stop-color="#000" stop-opacity="0.116"/><stop offset="1.0000" stop-color="#000" stop-opacity="0.089"/></linearGradient>
<linearGradient id="l2_8" gradientUnits="userSpaceOnUse" x1="0" y1="96.4" x2="0" y2="417.8"><stop offset="0.0000" stop-color="#000" stop-opacity="0.000"/><stop offset="0.1357" stop-color="#000" stop-opacity="0.000"/><stop offset="0.1823" stop-color="#000" stop-opacity="0.054"/><stop offset="0.2912" stop-color="#000" stop-opacity="0.205"/><stop offset="0.3846" stop-color="#000" stop-opacity="0.268"/><stop offset="0.4966" stop-color="#000" stop-opacity="0.259"/><stop offset="0.6335" stop-color="#000" stop-opacity="0.219"/><stop offset="0.7673" stop-color="#000" stop-opacity="0.170"/><stop offset="0.9135" stop-color="#000" stop-opacity="0.116"/><stop offset="1.0000" stop-color="#000" stop-opacity="0.089"/></linearGradient>
<linearGradient id="l2_9" gradientUnits="userSpaceOnUse" x1="0" y1="96.4" x2="0" y2="417.8"><stop offset="0.0000" stop-color="#000" stop-opacity="0.000"/><stop offset="0.2757" stop-color="#000" stop-opacity="0.000"/><stop offset="0.3099" stop-color="#000" stop-opacity="0.045"/><stop offset="0.3846" stop-color="#000" stop-opacity="0.107"/><stop offset="0.4468" stop-color="#000" stop-opacity="0.170"/><stop offset="0.4966" stop-color="#000" stop-opacity="0.304"/><stop offset="0.5557" stop-color="#000" stop-opacity="0.393"/><stop offset="0.6335" stop-color="#000" stop-opacity="0.464"/><stop offset="0.7704" stop-color="#000" stop-opacity="0.473"/><stop offset="0.8202" stop-color="#000" stop-opacity="0.330"/><stop offset="0.9135" stop-color="#000" stop-opacity="0.286"/><stop offset="1.0000" stop-color="#000" stop-opacity="0.241"/></linearGradient>
<linearGradient id="l2_10" gradientUnits="userSpaceOnUse" x1="0" y1="96.4" x2="0" y2="417.8"><stop offset="0.0000" stop-color="#000" stop-opacity="0.000"/><stop offset="0.1512" stop-color="#000" stop-opacity="0.000"/><stop offset="0.1823" stop-color="#000" stop-opacity="0.054"/><stop offset="0.2601" stop-color="#000" stop-opacity="0.232"/><stop offset="0.3223" stop-color="#000" stop-opacity="0.420"/><stop offset="0.3846" stop-color="#000" stop-opacity="0.473"/><stop offset="0.4966" stop-color="#000" stop-opacity="0.527"/><stop offset="0.6024" stop-color="#000" stop-opacity="0.509"/><stop offset="0.6801" stop-color="#000" stop-opacity="0.393"/><stop offset="0.7735" stop-color="#000" stop-opacity="0.259"/><stop offset="0.9135" stop-color="#000" stop-opacity="0.196"/><stop offset="1.0000" stop-color="#000" stop-opacity="0.152"/></linearGradient>
<linearGradient id="l2_11" gradientUnits="userSpaceOnUse" x1="0" y1="96.4" x2="0" y2="417.8"><stop offset="0.0000" stop-color="#000" stop-opacity="0.000"/><stop offset="0.1512" stop-color="#000" stop-opacity="0.000"/><stop offset="0.1823" stop-color="#000" stop-opacity="0.054"/><stop offset="0.2757" stop-color="#000" stop-opacity="0.241"/><stop offset="0.3535" stop-color="#000" stop-opacity="0.393"/><stop offset="0.4312" stop-color="#000" stop-opacity="0.473"/><stop offset="0.4966" stop-color="#000" stop-opacity="0.527"/><stop offset="0.6024" stop-color="#000" stop-opacity="0.500"/><stop offset="0.6957" stop-color="#000" stop-opacity="0.393"/><stop offset="0.7735" stop-color="#000" stop-opacity="0.268"/><stop offset="0.9135" stop-color="#000" stop-opacity="0.205"/><stop offset="1.0000" stop-color="#000" stop-opacity="0.170"/></linearGradient>
<linearGradient id="gp2_0" gradientUnits="userSpaceOnUse" x1="0" y1="96.4" x2="0" y2="417.8"><stop offset="0.0000" stop-color="#fff" stop-opacity="0.000"/><stop offset="0.0000" stop-color="#fff" stop-opacity="0.000"/><stop offset="0.0361" stop-color="#fff" stop-opacity="0.003"/><stop offset="0.0859" stop-color="#fff" stop-opacity="0.031"/><stop offset="0.1357" stop-color="#fff" stop-opacity="0.087"/><stop offset="0.1823" stop-color="#fff" stop-opacity="0.200"/><stop offset="0.2601" stop-color="#fff" stop-opacity="0.200"/><stop offset="0.3410" stop-color="#fff" stop-opacity="0.200"/><stop offset="0.4966" stop-color="#fff" stop-opacity="0.200"/><stop offset="0.6335" stop-color="#fff" stop-opacity="0.200"/><stop offset="0.7517" stop-color="#fff" stop-opacity="0.169"/><stop offset="0.7673" stop-color="#fff" stop-opacity="0.144"/><stop offset="0.7828" stop-color="#fff" stop-opacity="0.069"/><stop offset="0.9135" stop-color="#fff" stop-opacity="0.059"/><stop offset="0.9291" stop-color="#fff" stop-opacity="0.081"/><stop offset="0.9446" stop-color="#fff" stop-opacity="0.059"/><stop offset="1.0000" stop-color="#fff" stop-opacity="0.050"/><stop offset="1.0000" stop-color="#fff" stop-opacity="0.050"/></linearGradient>
<linearGradient id="gp2_1" gradientUnits="userSpaceOnUse" x1="0" y1="96.4" x2="0" y2="417.8"><stop offset="0.0000" stop-color="#fff" stop-opacity="0.000"/><stop offset="0.0000" stop-color="#fff" stop-opacity="0.000"/><stop offset="0.0361" stop-color="#fff" stop-opacity="0.003"/><stop offset="0.0859" stop-color="#fff" stop-opacity="0.031"/><stop offset="0.1357" stop-color="#fff" stop-opacity="0.087"/><stop offset="0.1823" stop-color="#fff" stop-opacity="0.200"/><stop offset="0.2601" stop-color="#fff" stop-opacity="0.200"/><stop offset="0.3410" stop-color="#fff" stop-opacity="0.200"/><stop offset="0.4966" stop-color="#fff" stop-opacity="0.200"/><stop offset="0.6335" stop-color="#fff" stop-opacity="0.200"/><stop offset="0.7517" stop-color="#fff" stop-opacity="0.169"/><stop offset="0.7673" stop-color="#fff" stop-opacity="0.144"/><stop offset="0.7828" stop-color="#fff" stop-opacity="0.069"/><stop offset="0.9135" stop-color="#fff" stop-opacity="0.059"/><stop offset="0.9291" stop-color="#fff" stop-opacity="0.081"/><stop offset="0.9446" stop-color="#fff" stop-opacity="0.059"/><stop offset="1.0000" stop-color="#fff" stop-opacity="0.050"/><stop offset="1.0000" stop-color="#fff" stop-opacity="0.050"/></linearGradient>
<linearGradient id="gp2_2" gradientUnits="userSpaceOnUse" x1="0" y1="96.4" x2="0" y2="417.8"><stop offset="0.0000" stop-color="#fff" stop-opacity="0.000"/><stop offset="0.0000" stop-color="#fff" stop-opacity="0.000"/><stop offset="0.0361" stop-color="#fff" stop-opacity="0.003"/><stop offset="0.0859" stop-color="#fff" stop-opacity="0.031"/><stop offset="0.1357" stop-color="#fff" stop-opacity="0.087"/><stop offset="0.1823" stop-color="#fff" stop-opacity="0.200"/><stop offset="0.2601" stop-color="#fff" stop-opacity="0.200"/><stop offset="0.3410" stop-color="#fff" stop-opacity="0.200"/><stop offset="0.4966" stop-color="#fff" stop-opacity="0.200"/><stop offset="0.6335" stop-color="#fff" stop-opacity="0.200"/><stop offset="0.7517" stop-color="#fff" stop-opacity="0.156"/><stop offset="0.7673" stop-color="#fff" stop-opacity="0.144"/><stop offset="0.7828" stop-color="#fff" stop-opacity="0.069"/><stop offset="0.9135" stop-color="#fff" stop-opacity="0.059"/><stop offset="0.9291" stop-color="#fff" stop-opacity="0.081"/><stop offset="0.9446" stop-color="#fff" stop-opacity="0.059"/><stop offset="1.0000" stop-color="#fff" stop-opacity="0.050"/><stop offset="1.0000" stop-color="#fff" stop-opacity="0.050"/></linearGradient>
<linearGradient id="gp2_3" gradientUnits="userSpaceOnUse" x1="0" y1="96.4" x2="0" y2="417.8"><stop offset="0.0000" stop-color="#fff" stop-opacity="0.000"/><stop offset="0.0000" stop-color="#fff" stop-opacity="0.000"/><stop offset="0.0361" stop-color="#fff" stop-opacity="0.003"/><stop offset="0.0859" stop-color="#fff" stop-opacity="0.031"/><stop offset="0.1357" stop-color="#fff" stop-opacity="0.087"/><stop offset="0.1823" stop-color="#fff" stop-opacity="0.191"/><stop offset="0.2601" stop-color="#fff" stop-opacity="0.200"/><stop offset="0.3410" stop-color="#fff" stop-opacity="0.200"/><stop offset="0.4966" stop-color="#fff" stop-opacity="0.200"/><stop offset="0.6335" stop-color="#fff" stop-opacity="0.191"/><stop offset="0.7517" stop-color="#fff" stop-opacity="0.148"/><stop offset="0.7673" stop-color="#fff" stop-opacity="0.144"/><stop offset="0.7828" stop-color="#fff" stop-opacity="0.069"/><stop offset="0.9135" stop-color="#fff" stop-opacity="0.059"/><stop offset="0.9291" stop-color="#fff" stop-opacity="0.081"/><stop offset="0.9446" stop-color="#fff" stop-opacity="0.059"/><stop offset="1.0000" stop-color="#fff" stop-opacity="0.050"/><stop offset="1.0000" stop-color="#fff" stop-opacity="0.050"/></linearGradient>
<linearGradient id="gp2_4" gradientUnits="userSpaceOnUse" x1="0" y1="96.4" x2="0" y2="417.8"><stop offset="0.0000" stop-color="#fff" stop-opacity="0.000"/><stop offset="0.0000" stop-color="#fff" stop-opacity="0.000"/><stop offset="0.0361" stop-color="#fff" stop-opacity="0.003"/><stop offset="0.0859" stop-color="#fff" stop-opacity="0.031"/><stop offset="0.1357" stop-color="#fff" stop-opacity="0.087"/><stop offset="0.1823" stop-color="#fff" stop-opacity="0.194"/><stop offset="0.2601" stop-color="#fff" stop-opacity="0.200"/><stop offset="0.3410" stop-color="#fff" stop-opacity="0.200"/><stop offset="0.4966" stop-color="#fff" stop-opacity="0.200"/><stop offset="0.6335" stop-color="#fff" stop-opacity="0.200"/><stop offset="0.7517" stop-color="#fff" stop-opacity="0.170"/><stop offset="0.7673" stop-color="#fff" stop-opacity="0.144"/><stop offset="0.7828" stop-color="#fff" stop-opacity="0.069"/><stop offset="0.9135" stop-color="#fff" stop-opacity="0.059"/><stop offset="0.9291" stop-color="#fff" stop-opacity="0.081"/><stop offset="0.9446" stop-color="#fff" stop-opacity="0.059"/><stop offset="1.0000" stop-color="#fff" stop-opacity="0.050"/><stop offset="1.0000" stop-color="#fff" stop-opacity="0.050"/></linearGradient>
<linearGradient id="gp2_5" gradientUnits="userSpaceOnUse" x1="0" y1="96.4" x2="0" y2="417.8"><stop offset="0.0000" stop-color="#fff" stop-opacity="0.000"/><stop offset="0.0000" stop-color="#fff" stop-opacity="0.000"/><stop offset="0.0361" stop-color="#fff" stop-opacity="0.002"/><stop offset="0.0859" stop-color="#fff" stop-opacity="0.016"/><stop offset="0.1357" stop-color="#fff" stop-opacity="0.044"/><stop offset="0.1668" stop-color="#fff" stop-opacity="0.081"/><stop offset="0.1823" stop-color="#fff" stop-opacity="0.107"/><stop offset="0.2010" stop-color="#fff" stop-opacity="0.125"/><stop offset="0.2601" stop-color="#fff" stop-opacity="0.181"/><stop offset="0.2912" stop-color="#fff" stop-opacity="0.200"/><stop offset="0.3410" stop-color="#fff" stop-opacity="0.200"/><stop offset="0.4188" stop-color="#fff" stop-opacity="0.200"/><stop offset="0.4966" stop-color="#fff" stop-opacity="0.200"/><stop offset="0.5090" stop-color="#fff" stop-opacity="0.200"/><stop offset="0.6335" stop-color="#fff" stop-opacity="0.200"/><stop offset="0.7517" stop-color="#fff" stop-opacity="0.200"/><stop offset="0.7579" stop-color="#fff" stop-opacity="0.200"/><stop offset="0.7673" stop-color="#fff" stop-opacity="0.200"/><stop offset="0.7828" stop-color="#fff" stop-opacity="0.158"/><stop offset="0.7953" stop-color="#fff" stop-opacity="0.137"/><stop offset="0.9135" stop-color="#fff" stop-opacity="0.117"/><stop offset="0.9291" stop-color="#fff" stop-opacity="0.125"/><stop offset="0.9446" stop-color="#fff" stop-opacity="0.110"/><stop offset="1.0000" stop-color="#fff" stop-opacity="0.094"/><stop offset="1.0000" stop-color="#fff" stop-opacity="0.094"/></linearGradient>
<linearGradient id="gp2_6" gradientUnits="userSpaceOnUse" x1="0" y1="96.4" x2="0" y2="417.8"><stop offset="0.0000" stop-color="#fff" stop-opacity="0.000"/><stop offset="0.0000" stop-color="#fff" stop-opacity="0.000"/><stop offset="0.1201" stop-color="#fff" stop-opacity="0.000"/><stop offset="0.1512" stop-color="#fff" stop-opacity="0.019"/><stop offset="0.1668" stop-color="#fff" stop-opacity="0.026"/><stop offset="0.2010" stop-color="#fff" stop-opacity="0.059"/><stop offset="0.2601" stop-color="#fff" stop-opacity="0.112"/><stop offset="0.2912" stop-color="#fff" stop-opacity="0.139"/><stop offset="0.3223" stop-color="#fff" stop-opacity="0.172"/><stop offset="0.4157" stop-color="#fff" stop-opacity="0.200"/><stop offset="0.4188" stop-color="#fff" stop-opacity="0.200"/><stop offset="0.5090" stop-color="#fff" stop-opacity="0.200"/><stop offset="0.6335" stop-color="#fff" stop-opacity="0.200"/><stop offset="0.7579" stop-color="#fff" stop-opacity="0.200"/><stop offset="0.7673" stop-color="#fff" stop-opacity="0.200"/><stop offset="0.7953" stop-color="#fff" stop-opacity="0.159"/><stop offset="0.9135" stop-color="#fff" stop-opacity="0.128"/><stop offset="1.0000" stop-color="#fff" stop-opacity="0.100"/><stop offset="1.0000" stop-color="#fff" stop-opacity="0.100"/></linearGradient>
<linearGradient id="gp2_7" gradientUnits="userSpaceOnUse" x1="0" y1="96.4" x2="0" y2="417.8"><stop offset="0.0000" stop-color="#fff" stop-opacity="0.000"/><stop offset="0.0000" stop-color="#fff" stop-opacity="0.000"/><stop offset="0.1201" stop-color="#fff" stop-opacity="0.000"/><stop offset="0.1357" stop-color="#fff" stop-opacity="0.009"/><stop offset="0.1512" stop-color="#fff" stop-opacity="0.025"/><stop offset="0.1823" stop-color="#fff" stop-opacity="0.053"/><stop offset="0.2601" stop-color="#fff" stop-opacity="0.129"/><stop offset="0.2912" stop-color="#fff" stop-opacity="0.158"/><stop offset="0.3223" stop-color="#fff" stop-opacity="0.179"/><stop offset="0.3846" stop-color="#fff" stop-opacity="0.200"/><stop offset="0.4157" stop-color="#fff" stop-opacity="0.200"/><stop offset="0.4966" stop-color="#fff" stop-opacity="0.184"/><stop offset="0.5090" stop-color="#fff" stop-opacity="0.180"/><stop offset="0.6335" stop-color="#fff" stop-opacity="0.155"/><stop offset="0.7673" stop-color="#fff" stop-opacity="0.119"/><stop offset="0.9135" stop-color="#fff" stop-opacity="0.081"/><stop offset="1.0000" stop-color="#fff" stop-opacity="0.063"/><stop offset="1.0000" stop-color="#fff" stop-opacity="0.063"/></linearGradient>
<linearGradient id="gp2_8" gradientUnits="userSpaceOnUse" x1="0" y1="96.4" x2="0" y2="417.8"><stop offset="0.0000" stop-color="#fff" stop-opacity="0.000"/><stop offset="0.0000" stop-color="#fff" stop-opacity="0.000"/><stop offset="0.1357" stop-color="#fff" stop-opacity="0.000"/><stop offset="0.1823" stop-color="#fff" stop-opacity="0.019"/><stop offset="0.2757" stop-color="#fff" stop-opacity="0.064"/><stop offset="0.2912" stop-color="#fff" stop-opacity="0.079"/><stop offset="0.3099" stop-color="#fff" stop-opacity="0.092"/><stop offset="0.3846" stop-color="#fff" stop-opacity="0.131"/><stop offset="0.4468" stop-color="#fff" stop-opacity="0.151"/><stop offset="0.4966" stop-color="#fff" stop-opacity="0.197"/><stop offset="0.5557" stop-color="#fff" stop-opacity="0.200"/><stop offset="0.6335" stop-color="#fff" stop-opacity="0.200"/><stop offset="0.7673" stop-color="#fff" stop-opacity="0.200"/><stop offset="0.7704" stop-color="#fff" stop-opacity="0.200"/><stop offset="0.8202" stop-color="#fff" stop-opacity="0.168"/><stop offset="0.9135" stop-color="#fff" stop-opacity="0.141"/><stop offset="1.0000" stop-color="#fff" stop-opacity="0.116"/><stop offset="1.0000" stop-color="#fff" stop-opacity="0.116"/></linearGradient>
<linearGradient id="gp2_9" gradientUnits="userSpaceOnUse" x1="0" y1="96.4" x2="0" y2="417.8"><stop offset="0.0000" stop-color="#fff" stop-opacity="0.000"/><stop offset="0.0000" stop-color="#fff" stop-opacity="0.000"/><stop offset="0.1512" stop-color="#fff" stop-opacity="0.000"/><stop offset="0.1823" stop-color="#fff" stop-opacity="0.019"/><stop offset="0.2601" stop-color="#fff" stop-opacity="0.081"/><stop offset="0.2757" stop-color="#fff" stop-opacity="0.098"/><stop offset="0.3099" stop-color="#fff" stop-opacity="0.149"/><stop offset="0.3223" stop-color="#fff" stop-opacity="0.166"/><stop offset="0.3846" stop-color="#fff" stop-opacity="0.200"/><stop offset="0.4468" stop-color="#fff" stop-opacity="0.200"/><stop offset="0.4966" stop-color="#fff" stop-opacity="0.200"/><stop offset="0.5557" stop-color="#fff" stop-opacity="0.200"/><stop offset="0.6024" stop-color="#fff" stop-opacity="0.200"/><stop offset="0.6335" stop-color="#fff" stop-opacity="0.200"/><stop offset="0.6801" stop-color="#fff" stop-opacity="0.200"/><stop offset="0.7704" stop-color="#fff" stop-opacity="0.200"/><stop offset="0.7735" stop-color="#fff" stop-opacity="0.200"/><stop offset="0.8202" stop-color="#fff" stop-opacity="0.199"/><stop offset="0.9135" stop-color="#fff" stop-opacity="0.169"/><stop offset="1.0000" stop-color="#fff" stop-opacity="0.138"/><stop offset="1.0000" stop-color="#fff" stop-opacity="0.138"/></linearGradient>
<linearGradient id="gp2_10" gradientUnits="userSpaceOnUse" x1="0" y1="96.4" x2="0" y2="417.8"><stop offset="0.0000" stop-color="#fff" stop-opacity="0.000"/><stop offset="0.0000" stop-color="#fff" stop-opacity="0.000"/><stop offset="0.1512" stop-color="#fff" stop-opacity="0.000"/><stop offset="0.1823" stop-color="#fff" stop-opacity="0.038"/><stop offset="0.2601" stop-color="#fff" stop-opacity="0.155"/><stop offset="0.2757" stop-color="#fff" stop-opacity="0.182"/><stop offset="0.3223" stop-color="#fff" stop-opacity="0.200"/><stop offset="0.3535" stop-color="#fff" stop-opacity="0.200"/><stop offset="0.3846" stop-color="#fff" stop-opacity="0.200"/><stop offset="0.4312" stop-color="#fff" stop-opacity="0.200"/><stop offset="0.4966" stop-color="#fff" stop-opacity="0.200"/><stop offset="0.6024" stop-color="#fff" stop-opacity="0.200"/><stop offset="0.6801" stop-color="#fff" stop-opacity="0.200"/><stop offset="0.6957" stop-color="#fff" stop-opacity="0.200"/><stop offset="0.7735" stop-color="#fff" stop-opacity="0.184"/><stop offset="0.9135" stop-color="#fff" stop-opacity="0.141"/><stop offset="1.0000" stop-color="#fff" stop-opacity="0.113"/><stop offset="1.0000" stop-color="#fff" stop-opacity="0.112"/></linearGradient>
</defs>
<text x="123.3" y="14.2" font-size="19" text-anchor="middle" fill="#000" style="font-style:italic;" >GFP</text>
<text x="221.5" y="14.0" font-size="19" text-anchor="middle" fill="#000" style="font-style:italic;" >KBTBD6</text>
<rect x="79.8" y="23.7" width="84.89999999999999" height="2.2" fill="#0b8a48"/>
<rect x="179.5" y="23.599999999999998" width="80.10000000000002" height="2.2" fill="#1a9cf0"/>
<rect x="79.8" y="54.5" width="33.8" height="2.2" fill="#0b8a48"/>
<rect x="130.0" y="54.5" width="33.30000000000001" height="2.2" fill="#0b8a48"/>
<rect x="180.0" y="54.6" width="33.599999999999994" height="2.2" fill="#1a9cf0"/>
<rect x="226.7" y="54.6" width="33.400000000000034" height="2.2" fill="#1a9cf0"/>
<text x="96.8" y="47.0" font-size="15" text-anchor="middle" fill="#000" style="" >5</text>
<text x="146.8" y="47.0" font-size="15" text-anchor="middle" fill="#000" style="" >6</text>
<text x="196.3" y="46.8" font-size="15" text-anchor="middle" fill="#000" style="" >5</text>
<text x="243.5" y="46.8" font-size="15" text-anchor="middle" fill="#000" style="" >7</text>
<polygon points="74.9,88.8 115.5,69.7 115.5,88.8" fill="url(#tg1)" stroke="#37632a" stroke-width="1.5" stroke-linejoin="miter"/>
<polygon points="126.8,88.8 167.70000000000002,69.7 167.70000000000002,88.8" fill="url(#tg2)" stroke="#37632a" stroke-width="1.5" stroke-linejoin="miter"/>
<polygon points="174.4,88.7 215.0,69.9 215.0,88.7" fill="url(#tg3)" stroke="#0c98f0" stroke-width="1.5" stroke-linejoin="miter"/>
<polygon points="221.7,88.7 263.1,69.9 263.1,88.7" fill="url(#tg4)" stroke="#0c98f0" stroke-width="1.5" stroke-linejoin="miter"/>
<text x="290.3" y="43.3" font-size="15" text-anchor="start" fill="#000" style="" >Clone #</text>
<text x="293.8" y="84.6" font-size="14.4" text-anchor="start" fill="#000" style="" >PD</text>
<text x="31.6" y="79.7" font-size="19" text-anchor="start" fill="#000" style="" >A</text>
<text x="463.8" y="14.2" font-size="19" text-anchor="middle" fill="#000" style="font-style:italic;" >GFP</text>
<text x="572.2" y="14.0" font-size="19" text-anchor="middle" fill="#000" style="font-style:italic;" >POP5</text>
<rect x="418.4" y="23.5" width="87.90000000000003" height="2.2" fill="#0b8a48"/>
<rect x="526.0" y="23.299999999999997" width="85.0" height="2.2" fill="#7030a0"/>
<rect x="418.4" y="54.6" width="33.30000000000001" height="2.2" fill="#0b8a48"/>
<rect x="472.6" y="54.6" width="33.299999999999955" height="2.2" fill="#0b8a48"/>
<rect x="526.5" y="54.699999999999996" width="33.5" height="2.2" fill="#7030a0"/>
<rect x="577.8" y="54.699999999999996" width="33.200000000000045" height="2.2" fill="#7030a0"/>
<text x="435.5" y="46.6" font-size="15" text-anchor="middle" fill="#000" style="" >5</text>
<text x="489.2" y="46.6" font-size="15" text-anchor="middle" fill="#000" style="" >6</text>
<text x="543.7" y="46.4" font-size="15" text-anchor="middle" fill="#000" style="" >5</text>
<text x="595.7" y="46.4" font-size="15" text-anchor="middle" fill="#000" style="" >6</text>
<polygon points="415.3,88.8 455.5,70.0 455.5,88.8" fill="url(#tg5)" stroke="#37632a" stroke-width="1.5" stroke-linejoin="miter"/>
<polygon points="468.4,88.8 509.0,70.0 509.0,88.8" fill="url(#tg6)" stroke="#37632a" stroke-width="1.5" stroke-linejoin="miter"/>
<polygon points="522.2,88.8 562.9,69.9 562.9,88.8" fill="url(#tg7)" stroke="#7834b0" stroke-width="1.5" stroke-linejoin="miter"/>
<polygon points="572.3,88.8 613.3,69.9 613.3,88.8" fill="url(#tg8)" stroke="#7834b0" stroke-width="1.5" stroke-linejoin="miter"/>
<text x="633.2" y="46.3" font-size="15" text-anchor="start" fill="#000" style="" >Clone #</text>
<text x="635.1" y="84.8" font-size="14.4" text-anchor="start" fill="#000" style="" >PD</text>
<text x="370.8" y="79.7" font-size="19" text-anchor="start" fill="#000" style="" >C</text>
<text x="118.0" y="479.2" font-size="19" text-anchor="middle" fill="#000" style="font-style:italic;" >GFP</text>
<text x="221.2" y="478.9" font-size="19" text-anchor="middle" fill="#000" style="font-style:italic;" >KBTBD6</text>
<rect x="69.0" y="488.79999999999995" width="90.69999999999999" height="2.2" fill="#0b8a48"/>
<rect x="174.9" y="488.09999999999997" width="90.99999999999997" height="2.2" fill="#1a9cf0"/>
<rect x="70.3" y="519.6" width="37.5" height="2.2" fill="#0b8a48"/>
<rect x="122.1" y="519.6" width="37.599999999999994" height="2.2" fill="#0b8a48"/>
<rect x="174.9" y="519.6999999999999" width="37.79999999999998" height="2.2" fill="#1a9cf0"/>
<rect x="227.5" y="519.6999999999999" width="37.80000000000001" height="2.2" fill="#1a9cf0"/>
<text x="87.9" y="510.9" font-size="15" text-anchor="middle" fill="#000" style="" >5</text>
<text x="140.3" y="510.9" font-size="15" text-anchor="middle" fill="#000" style="" >6</text>
<text x="193.1" y="510.8" font-size="15" text-anchor="middle" fill="#000" style="" >5</text>
<text x="248.4" y="510.8" font-size="15" text-anchor="middle" fill="#000" style="" >7</text>
<polygon points="64.9,554.9 110.89999999999999,535.4000000000001 110.89999999999999,554.9" fill="url(#tg9)" stroke="#37632a" stroke-width="1.5" stroke-linejoin="miter"/>
<polygon points="117.2,554.9 163.3,535.4000000000001 163.3,554.9" fill="url(#tg10)" stroke="#37632a" stroke-width="1.5" stroke-linejoin="miter"/>
<polygon points="171.3,555.0 217.3,535.5 217.3,555.0" fill="url(#tg11)" stroke="#0c98f0" stroke-width="1.5" stroke-linejoin="miter"/>
<polygon points="222.6,555.0 268.7,535.5 268.7,555.0" fill="url(#tg12)" stroke="#0c98f0" stroke-width="1.5" stroke-linejoin="miter"/>
<text x="282.4" y="508.1" font-size="15" text-anchor="start" fill="#000" style="" >Clone #</text>
<text x="285.9" y="549.2" font-size="14.4" text-anchor="start" fill="#000" style="" >PD</text>
<text x="31.8" y="549.4" font-size="19" text-anchor="start" fill="#000" style="" >B</text>
<text x="463.3" y="479.2" font-size="19" text-anchor="middle" fill="#000" style="font-style:italic;" >GFP</text>
<text x="569.1" y="478.9" font-size="19" text-anchor="middle" fill="#000" style="font-style:italic;" >POP5</text>
<rect x="416.0" y="486.5" width="90.0" height="2.2" fill="#0b8a48"/>
<rect x="523.8" y="486.79999999999995" width="90.40000000000009" height="2.2" fill="#7030a0"/>
<rect x="415.3" y="517.6" width="37.5" height="2.2" fill="#0b8a48"/>
<rect x="468.9" y="517.6" width="37.60000000000002" height="2.2" fill="#0b8a48"/>
<rect x="523.8" y="517.3" width="38.30000000000007" height="2.2" fill="#7030a0"/>
<rect x="575.0" y="517.3" width="37.89999999999998" height="2.2" fill="#7030a0"/>
<text x="433.75" y="509.8" font-size="15" text-anchor="middle" fill="#000" style="" >5</text>
<text x="487.8" y="509.8" font-size="15" text-anchor="middle" fill="#000" style="" >6</text>
<text x="542.8" y="508.2" font-size="15" text-anchor="middle" fill="#000" style="" >5</text>
<text x="593.85" y="508.2" font-size="15" text-anchor="middle" fill="#000" style="" >6</text>
<polygon points="409.9,551.6999999999999 455.90000000000003,532.2 455.90000000000003,551.6999999999999" fill="url(#tg13)" stroke="#37632a" stroke-width="1.5" stroke-linejoin="miter"/>
<polygon points="463.0,551.6999999999999 508.3,532.2 508.3,551.6999999999999" fill="url(#tg14)" stroke="#37632a" stroke-width="1.5" stroke-linejoin="miter"/>
<polygon points="517.2,551.6999999999999 562.8,532.2 562.8,551.6999999999999" fill="url(#tg15)" stroke="#7834b0" stroke-width="1.5" stroke-linejoin="miter"/>
<polygon points="569.0,551.6999999999999 615.4,532.2 615.4,551.6999999999999" fill="url(#tg16)" stroke="#7834b0" stroke-width="1.5" stroke-linejoin="miter"/>
<text x="633.2" y="508.1" font-size="15" text-anchor="start" fill="#000" style="" >Clone #</text>
<text x="635.1" y="547.2" font-size="14.4" text-anchor="start" fill="#000" style="" >PD</text>
<text x="371.8" y="549.4" font-size="19" text-anchor="start" fill="#000" style="" >D</text>
<g clip-path="url(#gc1)">
<polygon points="40.5,96.3 304.1,96.3 304.1,413.4 40.5,413.4" fill="#dedede"/>
<g filter="url(#gb1)">
<rect x="77.0" y="91.3" width="12.6" height="327.09999999999997" fill="url(#l1_0)"/>
<rect x="93.60000000000001" y="91.3" width="12.6" height="327.09999999999997" fill="url(#l1_1)"/>
<rect x="110.2" y="91.3" width="12.6" height="327.09999999999997" fill="url(#l1_2)"/>
<rect x="127.10000000000001" y="91.3" width="12.6" height="327.09999999999997" fill="url(#l1_3)"/>
<rect x="143.6" y="91.3" width="12.6" height="327.09999999999997" fill="url(#l1_4)"/>
<rect x="159.5" y="91.3" width="12.6" height="327.09999999999997" fill="url(#l1_5)"/>
<rect x="173.6" y="91.3" width="12.6" height="327.09999999999997" fill="url(#l1_6)"/>
<rect x="189.7" y="91.3" width="12.6" height="327.09999999999997" fill="url(#l1_7)"/>
<rect x="206.1" y="91.3" width="12.6" height="327.09999999999997" fill="url(#l1_8)"/>
<rect x="221.7" y="91.3" width="12.6" height="327.09999999999997" fill="url(#l1_9)"/>
<rect x="237.39999999999998" y="91.3" width="12.6" height="327.09999999999997" fill="url(#l1_10)"/>
<rect x="251.89999999999998" y="91.3" width="12.6" height="327.09999999999997" fill="url(#l1_11)"/>
<rect x="77" y="388.0" width="191" height="3" fill="#000" fill-opacity="0.05"/>
<rect x="90.69999999999999" y="96.3" width="1.8" height="317.09999999999997" fill="url(#gp1_0)"/>
<rect x="107.3" y="96.3" width="1.8" height="317.09999999999997" fill="url(#gp1_1)"/>
<rect x="124.05" y="96.3" width="1.8" height="317.09999999999997" fill="url(#gp1_2)"/>
<rect x="140.75" y="96.3" width="1.8" height="317.09999999999997" fill="url(#gp1_3)"/>
<rect x="156.95000000000002" y="96.3" width="1.8" height="317.09999999999997" fill="url(#gp1_4)"/>
<rect x="171.95000000000002" y="96.3" width="1.8" height="317.09999999999997" fill="url(#gp1_5)"/>
<rect x="187.04999999999998" y="96.3" width="1.8" height="317.09999999999997" fill="url(#gp1_6)"/>
<rect x="203.29999999999998" y="96.3" width="1.8" height="317.09999999999997" fill="url(#gp1_7)"/>
<rect x="219.29999999999998" y="96.3" width="1.8" height="317.09999999999997" fill="url(#gp1_8)"/>
<rect x="234.95" y="96.3" width="1.8" height="317.09999999999997" fill="url(#gp1_9)"/>
<rect x="250.04999999999998" y="96.3" width="1.8" height="317.09999999999997" fill="url(#gp1_10)"/>
</g>
<rect x="38.5" y="94.3" width="267.6" height="321.09999999999997" filter="url(#gn1)" opacity="0.11"/>
<rect x="38.5" y="94.3" width="267.6" height="321.09999999999997" filter="url(#gw1)" opacity="0.11"/>
<g filter="url(#gl1)">
<rect x="46.0" y="109.80000000000001" width="10" height="2.2" rx="1.1" fill="#000" fill-opacity="0.1"/>
<rect x="46.0" y="132.85" width="10" height="2.3" rx="1.15" fill="#000" fill-opacity="0.16"/>
<rect x="45.75" y="170.6" width="10.5" height="3" rx="1.5" fill="#000" fill-opacity="0.45"/>
<rect x="45.5" y="201.1" width="11" height="2.6" rx="1.3" fill="#000" fill-opacity="0.32"/>
<rect x="45.5" y="241.9" width="11" height="2.4" rx="1.2" fill="#000" fill-opacity="0.1"/>
<rect x="44.0" y="303.0" width="14" height="5" rx="2.5" fill="#000" fill-opacity="1.0"/>
<rect x="45.0" y="393.09999999999997" width="12" height="4.2" rx="2.1" fill="#000" fill-opacity="0.78"/>
<rect x="285.5" y="115.60000000000001" width="10" height="2.2" rx="1.1" fill="#000" fill-opacity="0.1"/>
<rect x="285.5" y="138.70000000000002" width="10" height="2.4" rx="1.2" fill="#000" fill-opacity="0.25"/>
<rect x="285.25" y="177.3" width="10.5" height="3" rx="1.5" fill="#000" fill-opacity="0.55"/>
<rect x="285.25" y="207.79999999999998" width="10.5" height="2.8" rx="1.4" fill="#000" fill-opacity="0.4"/>
<rect x="285.5" y="249.0" width="10" height="2.4" rx="1.2" fill="#000" fill-opacity="0.1"/>
<rect x="283.5" y="310.85" width="14" height="5.5" rx="2.75" fill="#000" fill-opacity="1.0"/>
<rect x="284.6" y="399.40000000000003" width="12" height="4.4" rx="2.2" fill="#000" fill-opacity="0.95"/>
</g>
<circle cx="262.8" cy="348.8" r="1.1" fill="#000" fill-opacity="0.95"/>
<circle cx="200.5" cy="219.5" r="0.7" fill="#000" fill-opacity="0.6"/>
<circle cx="45.3" cy="365.1" r="0.6" fill="#000" fill-opacity="0.35"/>
<circle cx="225.2" cy="363.5" r="0.6" fill="#000" fill-opacity="0.3"/>
</g>
<polygon points="40.5,96.3 304.1,96.3 304.1,413.4 40.5,413.4" fill="none" stroke="#111" stroke-width="1.3"/>
<text x="35.0" y="114.60000000000001" font-size="11" text-anchor="end" fill="#000" style="" >10.0 kb</text>
<text x="35.0" y="137.6" font-size="11" text-anchor="end" fill="#000" style="" >8.0 kb</text>
<text x="35.0" y="175.8" font-size="11" text-anchor="end" fill="#000" style="" >6.0 kb</text>
<text x="35.0" y="205.5" font-size="11" text-anchor="end" fill="#000" style="" >5.0 kb</text>
<text x="35.0" y="247.9" font-size="11" text-anchor="end" fill="#000" style="" >4.0 kb</text>
<text x="35.0" y="309.4" font-size="11" text-anchor="end" fill="#000" style="" >3.0 kb</text>
<text x="35.0" y="399.2" font-size="11" text-anchor="end" fill="#000" style="" >2.0 kb</text>
<text transform="translate(91.3,420.3) rotate(-90)" font-size="11" text-anchor="end">5</text>
<text transform="translate(107.32,420.3) rotate(-90)" font-size="11" text-anchor="end">134</text>
<text transform="translate(123.34,420.3) rotate(-90)" font-size="11" text-anchor="end">250</text>
<text transform="translate(139.36,420.3) rotate(-90)" font-size="11" text-anchor="end">4</text>
<text transform="translate(155.38,420.3) rotate(-90)" font-size="11" text-anchor="end">149</text>
<text transform="translate(171.39999999999998,420.3) rotate(-90)" font-size="11" text-anchor="end">234</text>
<text transform="translate(187.42000000000002,420.3) rotate(-90)" font-size="11" text-anchor="end">23</text>
<text transform="translate(203.44,420.3) rotate(-90)" font-size="11" text-anchor="end">160</text>
<text transform="translate(219.45999999999998,420.3) rotate(-90)" font-size="11" text-anchor="end">284</text>
<text transform="translate(235.48000000000002,420.3) rotate(-90)" font-size="11" text-anchor="end">20</text>
<text transform="translate(251.5,420.3) rotate(-90)" font-size="11" text-anchor="end">171</text>
<text transform="translate(267.52,420.3) rotate(-90)" font-size="11" text-anchor="end">306</text>
<text x="290.0" y="435.0" font-size="14.4" text-anchor="start" fill="#000" style="" >PD</text>
<g clip-path="url(#gc2)">
<polygon points="366.0,96.5 656.3,95.9 657.4,417.2 366.6,417.9" fill="#e0e0e0"/>
<g filter="url(#gb2)">
<rect x="410.0" y="91.4" width="13.4" height="331.4" fill="url(#l2_0)"/>
<rect x="428.0" y="91.4" width="13.4" height="331.4" fill="url(#l2_1)"/>
<rect x="445.7" y="91.4" width="13.4" height="331.4" fill="url(#l2_2)"/>
<rect x="463.8" y="91.4" width="13.4" height="331.4" fill="url(#l2_3)"/>
<rect x="481.5" y="91.4" width="13.4" height="331.4" fill="url(#l2_4)"/>
<rect x="498.0" y="91.4" width="13.4" height="331.4" fill="url(#l2_5)"/>
<rect x="514.3" y="91.4" width="13.4" height="331.4" fill="url(#l2_6)"/>
<rect x="531.4" y="91.4" width="13.4" height="331.4" fill="url(#l2_7)"/>
<rect x="548.9" y="91.4" width="13.4" height="331.4" fill="url(#l2_8)"/>
<rect x="566.9" y="91.4" width="13.4" height="331.4" fill="url(#l2_9)"/>
<rect x="583.5999999999999" y="91.4" width="13.4" height="331.4" fill="url(#l2_10)"/>
<rect x="600.5999999999999" y="91.4" width="13.4" height="331.4" fill="url(#l2_11)"/>
<rect x="424.8" y="96.4" width="1.8" height="321.4" fill="url(#gp2_0)"/>
<rect x="442.65" y="96.4" width="1.8" height="321.4" fill="url(#gp2_1)"/>
<rect x="460.55" y="96.4" width="1.8" height="321.4" fill="url(#gp2_2)"/>
<rect x="478.45000000000005" y="96.4" width="1.8" height="321.4" fill="url(#gp2_3)"/>
<rect x="495.55" y="96.4" width="1.8" height="321.4" fill="url(#gp2_4)"/>
<rect x="511.95000000000005" y="96.4" width="1.8" height="321.4" fill="url(#gp2_5)"/>
<rect x="528.65" y="96.4" width="1.8" height="321.4" fill="url(#gp2_6)"/>
<rect x="545.95" y="96.4" width="1.8" height="321.4" fill="url(#gp2_7)"/>
<rect x="563.7" y="96.4" width="1.8" height="321.4" fill="url(#gp2_8)"/>
<rect x="581.0500000000001" y="96.4" width="1.8" height="321.4" fill="url(#gp2_9)"/>
<rect x="597.9" y="96.4" width="1.8" height="321.4" fill="url(#gp2_10)"/>
</g>
<rect x="364.0" y="94.4" width="294.5" height="325.4" filter="url(#gn2)" opacity="0.11"/>
<rect x="364.0" y="94.4" width="294.5" height="325.4" filter="url(#gw2)" opacity="0.11"/>
<g filter="url(#gl2)">
<rect x="377.5" y="104.30000000000001" width="11" height="2.2" rx="1.1" fill="#000" fill-opacity="0.22"/>
<rect x="377.5" y="124.39999999999999" width="11" height="2.4" rx="1.2" fill="#000" fill-opacity="0.32"/>
<rect x="377.25" y="157.3" width="11.5" height="3" rx="1.5" fill="#000" fill-opacity="0.85"/>
<rect x="377.25" y="183.2" width="11.5" height="3" rx="1.5" fill="#000" fill-opacity="0.62"/>
<rect x="377.5" y="218.20000000000002" width="11" height="2.2" rx="1.1" fill="#000" fill-opacity="0.14"/>
<rect x="372.5" y="270.29999999999995" width="17" height="6.2" rx="3.1" fill="#000" fill-opacity="1.0"/>
<rect x="374.75" y="345.8" width="14.5" height="4.8" rx="2.4" fill="#000" fill-opacity="1.0"/>
<rect x="373.5" y="395.5" width="18" height="7" rx="3.5" fill="#000" fill-opacity="1.0"/>
<rect x="638.75" y="110.7" width="10.5" height="2.2" rx="1.1" fill="#000" fill-opacity="0.16"/>
<rect x="638.1" y="130.9" width="11" height="2.4" rx="1.2" fill="#000" fill-opacity="0.3"/>
<rect x="637.25" y="163.5" width="11.5" height="3" rx="1.5" fill="#000" fill-opacity="0.85"/>
<rect x="636.75" y="189.3" width="11.5" height="3" rx="1.5" fill="#000" fill-opacity="0.65"/>
<rect x="636.0" y="224.5" width="11" height="2.2" rx="1.1" fill="#000" fill-opacity="0.14"/>
<rect x="633.0" y="275.7" width="16" height="6.2" rx="3.1" fill="#000" fill-opacity="1.0"/>
<rect x="631.9" y="349.70000000000005" width="14" height="4.8" rx="2.4" fill="#000" fill-opacity="1.0"/>
<rect x="629.0" y="398.3" width="17" height="6.8" rx="3.4" fill="#000" fill-opacity="1.0"/>
</g>
<circle cx="534.1" cy="201.8" r="0.8" fill="#000" fill-opacity="0.7"/>
<circle cx="536.3" cy="302.4" r="0.9" fill="#000" fill-opacity="0.8"/>
<circle cx="622.8" cy="319.5" r="0.7" fill="#000" fill-opacity="0.6"/>
<circle cx="619" cy="339.2" r="0.8" fill="#000" fill-opacity="0.7"/>
<circle cx="419.6" cy="373.5" r="0.9" fill="#000" fill-opacity="0.8"/>
<circle cx="485.8" cy="392.2" r="0.9" fill="#000" fill-opacity="0.8"/>
<circle cx="479.9" cy="341.8" r="0.6" fill="#000" fill-opacity="0.5"/>
<circle cx="373.9" cy="374.2" r="0.7" fill="#000" fill-opacity="0.5"/>
<circle cx="643.1" cy="291" r="0.6" fill="#000" fill-opacity="0.5"/>
<circle cx="554.9" cy="371.6" r="1.6" fill="#000" fill-opacity="0.25"/>
<circle cx="429.5" cy="324.5" r="0.6" fill="#000" fill-opacity="0.4"/>
</g>
<polygon points="366.0,96.5 656.3,95.9 657.4,417.2 366.6,417.9" fill="none" stroke="#333" stroke-width="1.3"/>
<text x="357.7" y="108.9" font-size="11" text-anchor="end" fill="#000" style="" >10.0 kb</text>
<text x="357.7" y="131.4" font-size="11" text-anchor="end" fill="#000" style="" >8.0 kb</text>
<text x="357.7" y="163.8" font-size="11" text-anchor="end" fill="#000" style="" >6.0 kb</text>
<text x="357.7" y="189.9" font-size="11" text-anchor="end" fill="#000" style="" >5.0 kb</text>
<text x="357.7" y="225.4" font-size="11" text-anchor="end" fill="#000" style="" >4.0 kb</text>
<text x="357.7" y="280.4" font-size="11" text-anchor="end" fill="#000" style="" >3.0 kb</text>
<text x="357.7" y="354.7" font-size="11" text-anchor="end" fill="#000" style="" >2.0 kb</text>
<text x="357.7" y="406.5" font-size="11" text-anchor="end" fill="#000" style="" >1.5 kb</text>
<text transform="translate(421.8,422.0) rotate(-90)" font-size="11" text-anchor="end">5</text>
<text transform="translate(438.55,422.0) rotate(-90)" font-size="11" text-anchor="end">134</text>
<text transform="translate(455.3,422.0) rotate(-90)" font-size="11" text-anchor="end">250</text>
<text transform="translate(472.05,422.0) rotate(-90)" font-size="11" text-anchor="end">15</text>
<text transform="translate(488.8,422.0) rotate(-90)" font-size="11" text-anchor="end">149</text>
<text transform="translate(505.55,422.0) rotate(-90)" font-size="11" text-anchor="end">258</text>
<text transform="translate(522.3,422.0) rotate(-90)" font-size="11" text-anchor="end">26</text>
<text transform="translate(539.05,422.0) rotate(-90)" font-size="11" text-anchor="end">113</text>
<text transform="translate(555.8,422.0) rotate(-90)" font-size="11" text-anchor="end">262</text>
<text transform="translate(572.55,422.0) rotate(-90)" font-size="11" text-anchor="end">18</text>
<text transform="translate(589.3,422.0) rotate(-90)" font-size="11" text-anchor="end">127</text>
<text transform="translate(606.05,422.0) rotate(-90)" font-size="11" text-anchor="end">248</text>
<text x="627.0" y="434.9" font-size="14.4" text-anchor="start" fill="#000" style="" >PD</text>
<line x1="58.0" y1="732.4545339491546" x2="278.6" y2="732.4545339491546" stroke="#b8b8b8" stroke-width="1"/>
<line x1="55.199999999999996" y1="732.4545339491546" x2="57.4" y2="732.4545339491546" stroke="#333" stroke-width="0.9"/>
<text x="53.8" y="734.7545339491545" font-size="6.5" text-anchor="end" fill="#444" style="" >2</text>
<line x1="58.0" y1="693.908157341866" x2="278.6" y2="693.908157341866" stroke="#b8b8b8" stroke-width="1"/>
<line x1="55.199999999999996" y1="693.908157341866" x2="57.4" y2="693.908157341866" stroke="#333" stroke-width="0.9"/>
<text x="53.8" y="696.2081573418659" font-size="6.5" text-anchor="end" fill="#444" style="" >3</text>
<line x1="58.0" y1="666.5590678983091" x2="278.6" y2="666.5590678983091" stroke="#b8b8b8" stroke-width="1"/>
<line x1="55.199999999999996" y1="666.5590678983091" x2="57.4" y2="666.5590678983091" stroke="#333" stroke-width="0.9"/>
<text x="53.8" y="668.859067898309" font-size="6.5" text-anchor="end" fill="#444" style="" >4</text>
<line x1="58.0" y1="645.3454660508455" x2="278.6" y2="645.3454660508455" stroke="#b8b8b8" stroke-width="1"/>
<line x1="55.199999999999996" y1="645.3454660508455" x2="57.4" y2="645.3454660508455" stroke="#333" stroke-width="0.9"/>
<text x="53.8" y="647.6454660508455" font-size="6.5" text-anchor="end" fill="#444" style="" >5</text>
<line x1="58.0" y1="628.0126912910205" x2="278.6" y2="628.0126912910205" stroke="#b8b8b8" stroke-width="1"/>
<line x1="55.199999999999996" y1="628.0126912910205" x2="57.4" y2="628.0126912910205" stroke="#333" stroke-width="0.9"/>
<text x="53.8" y="630.3126912910204" font-size="6.5" text-anchor="end" fill="#444" style="" >6</text>
<line x1="58.0" y1="613.3580390408792" x2="278.6" y2="613.3580390408792" stroke="#b8b8b8" stroke-width="1"/>
<line x1="55.199999999999996" y1="613.3580390408792" x2="57.4" y2="613.3580390408792" stroke="#333" stroke-width="0.9"/>
<text x="53.8" y="615.6580390408792" font-size="6.5" text-anchor="end" fill="#444" style="" >7</text>
<line x1="58.0" y1="600.6636018474636" x2="278.6" y2="600.6636018474636" stroke="#b8b8b8" stroke-width="1"/>
<line x1="55.199999999999996" y1="600.6636018474636" x2="57.4" y2="600.6636018474636" stroke="#333" stroke-width="0.9"/>
<text x="53.8" y="602.9636018474636" font-size="6.5" text-anchor="end" fill="#444" style="" >8</text>
<line x1="58.0" y1="589.4663146837319" x2="278.6" y2="589.4663146837319" stroke="#b8b8b8" stroke-width="1"/>
<line x1="55.199999999999996" y1="589.4663146837319" x2="57.4" y2="589.4663146837319" stroke="#333" stroke-width="0.9"/>
<text x="53.8" y="591.7663146837318" font-size="6.5" text-anchor="end" fill="#444" style="" >9</text>
<line x1="58.0" y1="579.45" x2="278.6" y2="579.45" stroke="#b8b8b8" stroke-width="1"/>
<line x1="55.199999999999996" y1="579.45" x2="57.4" y2="579.45" stroke="#333" stroke-width="0.9"/>
<text x="53.8" y="581.75" font-size="6.5" text-anchor="end" fill="#444" style="" >10</text>
<line x1="58.0" y1="570.3891412188647" x2="278.6" y2="570.3891412188647" stroke="#b8b8b8" stroke-width="1"/>
<line x1="55.199999999999996" y1="570.3891412188647" x2="57.4" y2="570.3891412188647" stroke="#333" stroke-width="0.9"/>
<text x="53.8" y="572.6891412188646" font-size="6.5" text-anchor="end" fill="#444" style="" >11</text>
<rect x="67.05" y="619.4" width="9.4" height="72.60000000000002" fill="none" stroke="#b4b4b4" stroke-width="1"/>
<rect x="84.51" y="626.3" width="9.4" height="65.70000000000005" fill="none" stroke="#b4b4b4" stroke-width="1"/>
<rect x="101.97" y="620.6" width="9.4" height="54.60000000000002" fill="none" stroke="#b4b4b4" stroke-width="1"/>
<rect x="119.42999999999999" y="620.6" width="9.4" height="59.5" fill="none" stroke="#b4b4b4" stroke-width="1"/>
<rect x="136.89000000000001" y="624.7" width="9.4" height="62.799999999999955" fill="none" stroke="#b4b4b4" stroke-width="1"/>
<rect x="154.35000000000002" y="621.5" width="9.4" height="66.5" fill="none" stroke="#b4b4b4" stroke-width="1"/>
<rect x="171.81" y="586.4" width="9.4" height="99.60000000000002" fill="none" stroke="#b4b4b4" stroke-width="1"/>
<rect x="189.27" y="589.7" width="9.4" height="90.09999999999991" fill="none" stroke="#b4b4b4" stroke-width="1"/>
<rect x="206.73000000000002" y="582.6" width="9.4" height="91.10000000000002" fill="none" stroke="#b4b4b4" stroke-width="1"/>
<rect x="224.19000000000003" y="600.7" width="9.4" height="70.5" fill="none" stroke="#b4b4b4" stroke-width="1"/>
<rect x="241.65000000000003" y="584.5" width="9.4" height="74.79999999999995" fill="none" stroke="#b4b4b4" stroke-width="1"/>
<rect x="259.11" y="583.4" width="9.4" height="78.89999999999998" fill="none" stroke="#b4b4b4" stroke-width="1"/>
<polygon points="66.75,618.9 76.75,618.9 71.75,624.6" fill="#cc2f33"/>
<rect x="67.25" y="649.5" width="9" height="3.6" fill="#ff9a00"/>
<polygon points="66.75,692.5 76.75,692.5 71.75,686.8" fill="#53198a"/>
<polygon points="84.21000000000001,625.8 94.21000000000001,625.8 89.21000000000001,631.5" fill="#cc2f33"/>
<rect x="84.71000000000001" y="655.1" width="9" height="3.6" fill="#ff9a00"/>
<polygon points="84.21000000000001,692.5 94.21000000000001,692.5 89.21000000000001,686.8" fill="#53198a"/>
<polygon points="101.67,620.1 111.67,620.1 106.67,625.8000000000001" fill="#cc2f33"/>
<rect x="102.17" y="648.5" width="9" height="3.6" fill="#ff9a00"/>
<polygon points="101.67,675.7 111.67,675.7 106.67,670.0" fill="#53198a"/>
<polygon points="119.13,620.1 129.13,620.1 124.13,625.8000000000001" fill="#cc2f33"/>
<rect x="119.63" y="659.0" width="9" height="3.6" fill="#ff9a00"/>
<polygon points="119.13,680.6 129.13,680.6 124.13,674.9" fill="#53198a"/>
<polygon points="136.59,624.2 146.59,624.2 141.59,629.9000000000001" fill="#cc2f33"/>
<rect x="137.09" y="655.7" width="9" height="3.6" fill="#ff9a00"/>
<polygon points="136.59,688.0 146.59,688.0 141.59,682.3" fill="#53198a"/>
<polygon points="154.05,621.0 164.05,621.0 159.05,626.7" fill="#cc2f33"/>
<rect x="154.55" y="654.6" width="9" height="3.6" fill="#ff9a00"/>
<polygon points="154.05,688.5 164.05,688.5 159.05,682.8" fill="#53198a"/>
<polygon points="171.51,585.9 181.51,585.9 176.51,591.6" fill="#cc2f33"/>
<rect x="172.01" y="641.6" width="9" height="3.6" fill="#ff9a00"/>
<polygon points="171.51,686.5 181.51,686.5 176.51,680.8" fill="#53198a"/>
<polygon points="188.97,589.2 198.97,589.2 193.97,594.9000000000001" fill="#cc2f33"/>
<rect x="189.47" y="637.1" width="9" height="3.6" fill="#ff9a00"/>
<polygon points="188.97,680.3 198.97,680.3 193.97,674.5999999999999" fill="#53198a"/>
<polygon points="206.43,582.1 216.43,582.1 211.43,587.8000000000001" fill="#cc2f33"/>
<rect x="206.93" y="630.4000000000001" width="9" height="3.6" fill="#ff9a00"/>
<polygon points="206.43,674.2 216.43,674.2 211.43,668.5" fill="#53198a"/>
<polygon points="223.89000000000001,600.2 233.89000000000001,600.2 228.89000000000001,605.9000000000001" fill="#cc2f33"/>
<rect x="224.39000000000001" y="632.3000000000001" width="9" height="3.6" fill="#ff9a00"/>
<polygon points="223.89000000000001,671.7 233.89000000000001,671.7 228.89000000000001,666.0" fill="#53198a"/>
<polygon points="241.35000000000002,584.0 251.35000000000002,584.0 246.35000000000002,589.7" fill="#cc2f33"/>
<rect x="241.85000000000002" y="619.2" width="9" height="3.6" fill="#ff9a00"/>
<polygon points="241.35000000000002,659.8 251.35000000000002,659.8 246.35000000000002,654.0999999999999" fill="#53198a"/>
<polygon points="258.81,582.9 268.81,582.9 263.81,588.6" fill="#cc2f33"/>
<rect x="259.31" y="622.9000000000001" width="9" height="3.6" fill="#ff9a00"/>
<polygon points="258.81,662.8 268.81,662.8 263.81,657.0999999999999" fill="#53198a"/>
<rect x="57.6" y="718.3" width="55.199999999999996" height="51.30000000000007" fill="#fff" stroke="#1a1a1a" stroke-width="1.3"/>
<line x1="68.6" y1="721.6" x2="68.6" y2="758.4" stroke="#666" stroke-width="0.9"/>
<line x1="68.6" y1="758.4" x2="108.4" y2="758.4" stroke="#666" stroke-width="0.9"/>
<line x1="72.1" y1="721.9" x2="72.1" y2="758.4" stroke="#cc3a3f" stroke-width="1.9"/>
<line x1="85.8" y1="721.6" x2="85.8" y2="758.4" stroke="#ff9a10" stroke-width="1.9"/>
<line x1="105.5" y1="721.9" x2="105.5" y2="758.4" stroke="#6a2aa8" stroke-width="1.6"/>
<path d="M70.60,756.80 C70.92,756.72 71.97,756.83 72.50,756.30 C73.03,755.77 73.35,754.83 73.80,753.60 C74.25,752.37 74.77,750.77 75.20,748.90 C75.63,747.03 76.00,744.58 76.40,742.40 C76.80,740.22 77.17,737.43 77.60,735.80 C78.03,734.17 78.50,733.57 79.00,732.60 C79.50,731.63 79.97,731.07 80.60,730.00 C81.23,728.93 82.13,727.33 82.80,726.20 C83.47,725.07 84.15,723.80 84.60,723.20 C85.05,722.60 85.07,722.60 85.50,722.60 C85.93,722.60 86.48,722.73 87.20,723.20 C87.92,723.67 88.97,724.67 89.80,725.40 C90.63,726.13 91.53,726.43 92.20,727.60 C92.87,728.77 93.27,730.52 93.80,732.40 C94.33,734.28 94.83,736.97 95.40,738.90 C95.97,740.83 96.60,742.52 97.20,744.00 C97.80,745.48 98.40,746.60 99.00,747.80 C99.60,749.00 100.20,750.20 100.80,751.20 C101.40,752.20 102.00,753.08 102.60,753.80 C103.20,754.52 103.85,755.05 104.40,755.50 C104.95,755.95 105.37,756.28 105.90,756.50 C106.43,756.72 107.32,756.75 107.60,756.80" fill="none" stroke="#111" stroke-width="0.85"/>
<text x="88.6" y="765.2" font-size="3.7" text-anchor="middle" fill="#333" style="" >Telomere length</text>
<text transform="translate(64.0,740.0) rotate(-90)" font-size="3.7" text-anchor="middle" fill="#333">Density</text>
<line x1="57.4" y1="561.2" x2="57.4" y2="770.1" stroke="#1a1a1a" stroke-width="1.2"/>
<line x1="57.4" y1="769.5" x2="278.6" y2="769.5" stroke="#111" stroke-width="1.2"/>
<text transform="translate(42.4,666.0) rotate(-90)" font-size="8" text-anchor="middle">log10(Telomere Length Estimate)</text>
<line x1="403.40000000000003" y1="762.4" x2="625.9" y2="762.4" stroke="#b8b8b8" stroke-width="1"/>
<line x1="400.6" y1="762.4" x2="402.8" y2="762.4" stroke="#333" stroke-width="0.9"/>
<text x="399.2" y="764.6999999999999" font-size="6.5" text-anchor="end" fill="#444" style="" >1</text>
<line x1="403.40000000000003" y1="707.0104807978274" x2="625.9" y2="707.0104807978274" stroke="#b8b8b8" stroke-width="1"/>
<line x1="400.6" y1="707.0104807978274" x2="402.8" y2="707.0104807978274" stroke="#333" stroke-width="0.9"/>
<text x="399.2" y="709.3104807978274" font-size="6.5" text-anchor="end" fill="#444" style="" >2</text>
<line x1="403.40000000000003" y1="674.6096891315821" x2="625.9" y2="674.6096891315821" stroke="#b8b8b8" stroke-width="1"/>
<line x1="400.6" y1="674.6096891315821" x2="402.8" y2="674.6096891315821" stroke="#333" stroke-width="0.9"/>
<text x="399.2" y="676.909689131582" font-size="6.5" text-anchor="end" fill="#444" style="" >3</text>
<line x1="403.40000000000003" y1="651.6209615956549" x2="625.9" y2="651.6209615956549" stroke="#b8b8b8" stroke-width="1"/>
<line x1="400.6" y1="651.6209615956549" x2="402.8" y2="651.6209615956549" stroke="#333" stroke-width="0.9"/>
<text x="399.2" y="653.9209615956548" font-size="6.5" text-anchor="end" fill="#444" style="" >4</text>
<line x1="403.40000000000003" y1="633.7895192021725" x2="625.9" y2="633.7895192021725" stroke="#b8b8b8" stroke-width="1"/>
<line x1="400.6" y1="633.7895192021725" x2="402.8" y2="633.7895192021725" stroke="#333" stroke-width="0.9"/>
<text x="399.2" y="636.0895192021725" font-size="6.5" text-anchor="end" fill="#444" style="" >5</text>
<line x1="403.40000000000003" y1="619.2201699294095" x2="625.9" y2="619.2201699294095" stroke="#b8b8b8" stroke-width="1"/>
<line x1="400.6" y1="619.2201699294095" x2="402.8" y2="619.2201699294095" stroke="#333" stroke-width="0.9"/>
<text x="399.2" y="621.5201699294095" font-size="6.5" text-anchor="end" fill="#444" style="" >6</text>
<line x1="403.40000000000003" y1="606.9019606373768" x2="625.9" y2="606.9019606373768" stroke="#b8b8b8" stroke-width="1"/>
<line x1="400.6" y1="606.9019606373768" x2="402.8" y2="606.9019606373768" stroke="#333" stroke-width="0.9"/>
<text x="399.2" y="609.2019606373767" font-size="6.5" text-anchor="end" fill="#444" style="" >7</text>
<line x1="403.40000000000003" y1="596.2314423934823" x2="625.9" y2="596.2314423934823" stroke="#b8b8b8" stroke-width="1"/>
<line x1="400.6" y1="596.2314423934823" x2="402.8" y2="596.2314423934823" stroke="#333" stroke-width="0.9"/>
<text x="399.2" y="598.5314423934823" font-size="6.5" text-anchor="end" fill="#444" style="" >8</text>
<line x1="403.40000000000003" y1="586.8193782631643" x2="625.9" y2="586.8193782631643" stroke="#b8b8b8" stroke-width="1"/>
<line x1="400.6" y1="586.8193782631643" x2="402.8" y2="586.8193782631643" stroke="#333" stroke-width="0.9"/>
<text x="399.2" y="589.1193782631642" font-size="6.5" text-anchor="end" fill="#444" style="" >9</text>
<line x1="403.40000000000003" y1="578.4" x2="625.9" y2="578.4" stroke="#b8b8b8" stroke-width="1"/>
<line x1="400.6" y1="578.4" x2="402.8" y2="578.4" stroke="#333" stroke-width="0.9"/>
<text x="399.2" y="580.6999999999999" font-size="6.5" text-anchor="end" fill="#444" style="" >10</text>
<line x1="403.40000000000003" y1="570.7837459308865" x2="625.9" y2="570.7837459308865" stroke="#b8b8b8" stroke-width="1"/>
<line x1="400.6" y1="570.7837459308865" x2="402.8" y2="570.7837459308865" stroke="#333" stroke-width="0.9"/>
<text x="399.2" y="573.0837459308865" font-size="6.5" text-anchor="end" fill="#444" style="" >11</text>
<rect x="412.40000000000003" y="615.7" width="9.4" height="60.299999999999955" fill="none" stroke="#b4b4b4" stroke-width="1"/>
<rect x="430.08000000000004" y="621.2" width="9.4" height="57.69999999999993" fill="none" stroke="#b4b4b4" stroke-width="1"/>
<rect x="447.76000000000005" y="617.9" width="9.4" height="61.0" fill="none" stroke="#b4b4b4" stroke-width="1"/>
<rect x="465.44000000000005" y="625.6" width="9.4" height="55.89999999999998" fill="none" stroke="#b4b4b4" stroke-width="1"/>
<rect x="483.12000000000006" y="630.6" width="9.4" height="48.299999999999955" fill="none" stroke="#b4b4b4" stroke-width="1"/>
<rect x="500.8" y="627.3" width="9.4" height="58.10000000000002" fill="none" stroke="#b4b4b4" stroke-width="1"/>
<rect x="518.48" y="646.4" width="9.4" height="55.89999999999998" fill="none" stroke="#b4b4b4" stroke-width="1"/>
<rect x="536.16" y="631.5" width="9.4" height="42.799999999999955" fill="none" stroke="#b4b4b4" stroke-width="1"/>
<rect x="553.8399999999999" y="631.7" width="9.4" height="47.0" fill="none" stroke="#b4b4b4" stroke-width="1"/>
<rect x="571.52" y="654.0" width="9.4" height="52.0" fill="none" stroke="#b4b4b4" stroke-width="1"/>
<rect x="589.2" y="635.9" width="9.4" height="58.700000000000045" fill="none" stroke="#b4b4b4" stroke-width="1"/>
<rect x="606.88" y="640.9" width="9.4" height="62.5" fill="none" stroke="#b4b4b4" stroke-width="1"/>
<polygon points="412.1,615.2 422.1,615.2 417.1,620.9000000000001" fill="#cc2f33"/>
<rect x="412.6" y="635.5" width="9" height="3.6" fill="#ff9a00"/>
<polygon points="412.1,676.5 422.1,676.5 417.1,670.8" fill="#53198a"/>
<polygon points="429.78000000000003,620.7 439.78000000000003,620.7 434.78000000000003,626.4000000000001" fill="#cc2f33"/>
<rect x="430.28000000000003" y="645.2" width="9" height="3.6" fill="#ff9a00"/>
<polygon points="429.78000000000003,679.4 439.78000000000003,679.4 434.78000000000003,673.6999999999999" fill="#53198a"/>
<polygon points="447.46000000000004,617.4 457.46000000000004,617.4 452.46000000000004,623.1" fill="#cc2f33"/>
<rect x="447.96000000000004" y="642.8000000000001" width="9" height="3.6" fill="#ff9a00"/>
<polygon points="447.46000000000004,679.4 457.46000000000004,679.4 452.46000000000004,673.6999999999999" fill="#53198a"/>
<polygon points="465.14000000000004,625.1 475.14000000000004,625.1 470.14000000000004,630.8000000000001" fill="#cc2f33"/>
<rect x="465.64000000000004" y="647.8000000000001" width="9" height="3.6" fill="#ff9a00"/>
<polygon points="465.14000000000004,682.0 475.14000000000004,682.0 470.14000000000004,676.3" fill="#53198a"/>
<polygon points="482.82000000000005,630.1 492.82000000000005,630.1 487.82000000000005,635.8000000000001" fill="#cc2f33"/>
<rect x="483.32000000000005" y="647.1" width="9" height="3.6" fill="#ff9a00"/>
<polygon points="482.82000000000005,679.4 492.82000000000005,679.4 487.82000000000005,673.6999999999999" fill="#53198a"/>
<polygon points="500.5,626.8 510.5,626.8 505.5,632.5" fill="#cc2f33"/>
<rect x="501.0" y="648.7" width="9" height="3.6" fill="#ff9a00"/>
<polygon points="500.5,685.9 510.5,685.9 505.5,680.1999999999999" fill="#53198a"/>
<polygon points="518.1800000000001,645.9 528.1800000000001,645.9 523.1800000000001,651.6" fill="#cc2f33"/>
<rect x="518.6800000000001" y="667.3000000000001" width="9" height="3.6" fill="#ff9a00"/>
<polygon points="518.1800000000001,702.8 528.1800000000001,702.8 523.1800000000001,697.0999999999999" fill="#53198a"/>
<polygon points="535.86,631.0 545.86,631.0 540.86,636.7" fill="#cc2f33"/>
<rect x="536.36" y="654.8000000000001" width="9" height="3.6" fill="#ff9a00"/>
<polygon points="535.86,674.8 545.86,674.8 540.86,669.0999999999999" fill="#53198a"/>
<polygon points="553.54,631.2 563.54,631.2 558.54,636.9000000000001" fill="#cc2f33"/>
<rect x="554.04" y="660.1" width="9" height="3.6" fill="#ff9a00"/>
<polygon points="553.54,679.2 563.54,679.2 558.54,673.5" fill="#53198a"/>
<polygon points="571.22,653.5 581.22,653.5 576.22,659.2" fill="#cc2f33"/>
<rect x="571.72" y="674.9000000000001" width="9" height="3.6" fill="#ff9a00"/>
<polygon points="571.22,706.5 581.22,706.5 576.22,700.8" fill="#53198a"/>
<polygon points="588.9000000000001,635.4 598.9000000000001,635.4 593.9000000000001,641.1" fill="#cc2f33"/>
<rect x="589.4000000000001" y="657.9000000000001" width="9" height="3.6" fill="#ff9a00"/>
<polygon points="588.9000000000001,695.1 598.9000000000001,695.1 593.9000000000001,689.4" fill="#53198a"/>
<polygon points="606.58,640.4 616.58,640.4 611.58,646.1" fill="#cc2f33"/>
<rect x="607.08" y="664.0" width="9" height="3.6" fill="#ff9a00"/>
<polygon points="606.58,703.9 616.58,703.9 611.58,698.1999999999999" fill="#53198a"/>
<rect x="402.6" y="720.3" width="55.19999999999999" height="54.700000000000045" fill="#fff" stroke="#1a1a1a" stroke-width="1.3"/>
<line x1="414.2" y1="723.8" x2="414.2" y2="761.0" stroke="#666" stroke-width="0.9"/>
<line x1="414.2" y1="761.0" x2="453.9" y2="761.0" stroke="#666" stroke-width="0.9"/>
<line x1="417.3" y1="724.0999999999999" x2="417.3" y2="761.0" stroke="#cc3a3f" stroke-width="1.9"/>
<line x1="430.9" y1="723.8" x2="430.9" y2="761.0" stroke="#ff9a10" stroke-width="1.9"/>
<line x1="451.1" y1="724.0999999999999" x2="451.1" y2="761.0" stroke="#6a2aa8" stroke-width="1.6"/>
<path d="M416.20,759.40 C416.52,759.32 417.57,759.43 418.10,758.90 C418.63,758.37 418.95,757.43 419.40,756.20 C419.85,754.97 420.37,753.37 420.80,751.50 C421.23,749.63 421.60,747.18 422.00,745.00 C422.40,742.82 422.77,740.03 423.20,738.40 C423.63,736.77 424.10,736.17 424.60,735.20 C425.10,734.23 425.57,733.67 426.20,732.60 C426.83,731.53 427.73,729.93 428.40,728.80 C429.07,727.67 429.75,726.40 430.20,725.80 C430.65,725.20 430.67,725.20 431.10,725.20 C431.53,725.20 432.08,725.33 432.80,725.80 C433.52,726.27 434.57,727.27 435.40,728.00 C436.23,728.73 437.13,729.03 437.80,730.20 C438.47,731.37 438.87,733.12 439.40,735.00 C439.93,736.88 440.43,739.57 441.00,741.50 C441.57,743.43 442.20,745.12 442.80,746.60 C443.40,748.08 444.00,749.20 444.60,750.40 C445.20,751.60 445.80,752.80 446.40,753.80 C447.00,754.80 447.60,755.68 448.20,756.40 C448.80,757.12 449.45,757.65 450.00,758.10 C450.55,758.55 450.97,758.88 451.50,759.10 C452.03,759.32 452.92,759.35 453.20,759.40" fill="none" stroke="#111" stroke-width="0.85"/>
<text x="434.4" y="767.9" font-size="3.7" text-anchor="middle" fill="#333" style="" >Telomere length</text>
<text transform="translate(409.4,742.4) rotate(-90)" font-size="3.7" text-anchor="middle" fill="#333">Density</text>
<line x1="402.8" y1="561.1" x2="402.8" y2="773" stroke="#1a1a1a" stroke-width="1.2"/>
<line x1="402.8" y1="772.4" x2="625.9" y2="772.4" stroke="#111" stroke-width="1.2"/>
<text transform="translate(387.5,667.0) rotate(-90)" font-size="8" text-anchor="middle">log10(Telomere Length Estimate)</text>
</svg>
</body></html>
